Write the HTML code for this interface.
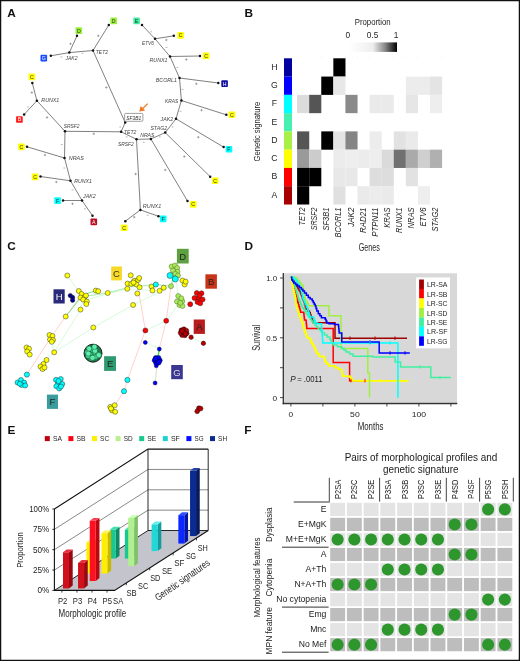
<!DOCTYPE html><html><head><meta charset="utf-8"><style>html,body{margin:0;padding:0;background:#fff;}svg{display:block;will-change:transform;}text{font-family:"Liberation Sans",sans-serif;}</style></head><body>
<svg width="520" height="661" viewBox="0 0 520 661">
<rect x="0" y="0" width="520" height="661" fill="#fff"/>
<text x="7.2" y="16.8" font-size="11.8" fill="#111" text-anchor="start" font-weight="bold">A</text>
<text x="244.6" y="17.1" font-size="11.8" fill="#111" text-anchor="start" font-weight="bold">B</text>
<text x="7.2" y="250.4" font-size="11.8" fill="#111" text-anchor="start" font-weight="bold">C</text>
<text x="244.5" y="249.7" font-size="11.8" fill="#111" text-anchor="start" font-weight="bold">D</text>
<text x="7.4" y="434.2" font-size="11.8" fill="#111" text-anchor="start" font-weight="bold">E</text>
<text x="244.2" y="434.2" font-size="11.8" fill="#111" text-anchor="start" font-weight="bold">F</text>
<line x1="93" y1="50.5" x2="108.8" y2="25" stroke="#555" stroke-width="0.75"/>
<line x1="93" y1="50.5" x2="69.3" y2="52.6" stroke="#555" stroke-width="0.75"/>
<line x1="69.3" y1="52.6" x2="77" y2="35.8" stroke="#555" stroke-width="0.75"/>
<line x1="69.3" y1="52.6" x2="50.8" y2="55.8" stroke="#555" stroke-width="0.75"/>
<line x1="93" y1="50.5" x2="125.2" y2="122.6" stroke="#555" stroke-width="0.75"/>
<line x1="125.2" y1="122.6" x2="121.1" y2="131.8" stroke="#555" stroke-width="0.75"/>
<line x1="121.1" y1="131.8" x2="65" y2="131.3" stroke="#555" stroke-width="0.75"/>
<line x1="65" y1="131.3" x2="36.9" y2="100.7" stroke="#555" stroke-width="0.75"/>
<line x1="36.9" y1="100.7" x2="32.3" y2="83" stroke="#555" stroke-width="0.75"/>
<line x1="36.9" y1="100.7" x2="24.1" y2="114.5" stroke="#555" stroke-width="0.75"/>
<line x1="65" y1="131.3" x2="64.5" y2="158" stroke="#555" stroke-width="0.75"/>
<line x1="64.5" y1="158" x2="27" y2="146.8" stroke="#555" stroke-width="0.75"/>
<line x1="64.5" y1="158" x2="70.5" y2="180.8" stroke="#555" stroke-width="0.75"/>
<line x1="70.5" y1="180.8" x2="40.5" y2="176.5" stroke="#555" stroke-width="0.75"/>
<line x1="70.5" y1="180.8" x2="82" y2="200.5" stroke="#555" stroke-width="0.75"/>
<line x1="82" y1="200.5" x2="63" y2="200.5" stroke="#555" stroke-width="0.75"/>
<line x1="82" y1="200.5" x2="92.5" y2="215.8" stroke="#555" stroke-width="0.75"/>
<line x1="121.1" y1="131.8" x2="136.5" y2="139.3" stroke="#555" stroke-width="0.75"/>
<line x1="136.5" y1="139.3" x2="150.9" y2="139" stroke="#555" stroke-width="0.75"/>
<line x1="150.9" y1="139" x2="165.2" y2="132.6" stroke="#555" stroke-width="0.75"/>
<line x1="165.2" y1="132.6" x2="176" y2="118.8" stroke="#555" stroke-width="0.75"/>
<line x1="176" y1="118.8" x2="181.4" y2="100.5" stroke="#555" stroke-width="0.75"/>
<line x1="181.4" y1="100.5" x2="179.5" y2="78" stroke="#555" stroke-width="0.75"/>
<line x1="179.5" y1="78" x2="170" y2="56.5" stroke="#555" stroke-width="0.75"/>
<line x1="170" y1="56.5" x2="155" y2="38.8" stroke="#555" stroke-width="0.75"/>
<line x1="155" y1="38.8" x2="142" y2="25" stroke="#555" stroke-width="0.75"/>
<line x1="155" y1="38.8" x2="173.8" y2="35.8" stroke="#555" stroke-width="0.75"/>
<line x1="170" y1="56.5" x2="200" y2="56" stroke="#555" stroke-width="0.75"/>
<line x1="179.5" y1="78" x2="218.3" y2="83" stroke="#555" stroke-width="0.75"/>
<line x1="181.4" y1="100.5" x2="226.3" y2="114.8" stroke="#555" stroke-width="0.75"/>
<line x1="176" y1="118.8" x2="223.6" y2="147.1" stroke="#555" stroke-width="0.75"/>
<line x1="165.2" y1="132.6" x2="210.2" y2="176.7" stroke="#555" stroke-width="0.75"/>
<line x1="150.9" y1="139" x2="187.5" y2="201" stroke="#555" stroke-width="0.75"/>
<line x1="136.5" y1="139.3" x2="140.4" y2="209.9" stroke="#555" stroke-width="0.75"/>
<line x1="140.4" y1="209.9" x2="125.3" y2="221.2" stroke="#555" stroke-width="0.75"/>
<line x1="140.4" y1="209.9" x2="158.5" y2="216.3" stroke="#555" stroke-width="0.75"/>
<circle cx="93" cy="50.5" r="1.25" fill="#111"/>
<circle cx="69.3" cy="52.6" r="1.25" fill="#111"/>
<circle cx="108.8" cy="25" r="1.25" fill="#111"/>
<circle cx="77" cy="35.8" r="1.25" fill="#111"/>
<circle cx="50.8" cy="55.8" r="1.25" fill="#111"/>
<circle cx="125.2" cy="122.6" r="1.25" fill="#111"/>
<circle cx="121.1" cy="131.8" r="1.25" fill="#111"/>
<circle cx="65" cy="131.3" r="1.25" fill="#111"/>
<circle cx="36.9" cy="100.7" r="1.25" fill="#111"/>
<circle cx="32.3" cy="83" r="1.25" fill="#111"/>
<circle cx="24.1" cy="114.5" r="1.25" fill="#111"/>
<circle cx="64.5" cy="158" r="1.25" fill="#111"/>
<circle cx="27" cy="146.8" r="1.25" fill="#111"/>
<circle cx="70.5" cy="180.8" r="1.25" fill="#111"/>
<circle cx="40.5" cy="176.5" r="1.25" fill="#111"/>
<circle cx="82" cy="200.5" r="1.25" fill="#111"/>
<circle cx="63" cy="200.5" r="1.25" fill="#111"/>
<circle cx="92.5" cy="215.8" r="1.25" fill="#111"/>
<circle cx="136.5" cy="139.3" r="1.25" fill="#111"/>
<circle cx="150.9" cy="139" r="1.25" fill="#111"/>
<circle cx="165.2" cy="132.6" r="1.25" fill="#111"/>
<circle cx="176" cy="118.8" r="1.25" fill="#111"/>
<circle cx="181.4" cy="100.5" r="1.25" fill="#111"/>
<circle cx="179.5" cy="78" r="1.25" fill="#111"/>
<circle cx="170" cy="56.5" r="1.25" fill="#111"/>
<circle cx="155" cy="38.8" r="1.25" fill="#111"/>
<circle cx="142" cy="25" r="1.25" fill="#111"/>
<circle cx="173.8" cy="35.8" r="1.25" fill="#111"/>
<circle cx="200" cy="56" r="1.25" fill="#111"/>
<circle cx="218.3" cy="83" r="1.25" fill="#111"/>
<circle cx="226.3" cy="114.8" r="1.25" fill="#111"/>
<circle cx="223.6" cy="147.1" r="1.25" fill="#111"/>
<circle cx="210.2" cy="176.7" r="1.25" fill="#111"/>
<circle cx="187.5" cy="201" r="1.25" fill="#111"/>
<circle cx="140.4" cy="209.9" r="1.25" fill="#111"/>
<circle cx="125.3" cy="221.2" r="1.25" fill="#111"/>
<circle cx="158.5" cy="216.3" r="1.25" fill="#111"/>
<rect x="110.4" y="17.599999999999998" width="6.6" height="6.6" rx="0.9" fill="#98f038"/>
<text x="113.7" y="22.799999999999997" font-size="5.2" fill="#333" text-anchor="middle">D</text>
<rect x="75.5" y="27.3" width="6.6" height="6.6" rx="0.9" fill="#98f038"/>
<text x="78.8" y="32.5" font-size="5.2" fill="#333" text-anchor="middle">D</text>
<rect x="40.5" y="54.800000000000004" width="6.6" height="6.6" rx="0.9" fill="#1a4cff"/>
<text x="43.8" y="60.0" font-size="5.2" fill="#fff" text-anchor="middle">G</text>
<rect x="28.599999999999998" y="73.60000000000001" width="6.6" height="6.6" rx="0.9" fill="#ffff00"/>
<text x="31.9" y="78.80000000000001" font-size="5.2" fill="#333" text-anchor="middle">C</text>
<rect x="16.099999999999998" y="116.2" width="6.6" height="6.6" rx="0.9" fill="#ff1a1a"/>
<text x="19.4" y="121.4" font-size="5.2" fill="#fff" text-anchor="middle">B</text>
<rect x="18.099999999999998" y="143.6" width="6.6" height="6.6" rx="0.9" fill="#ffff00"/>
<text x="21.4" y="148.8" font-size="5.2" fill="#333" text-anchor="middle">C</text>
<rect x="31.8" y="173.6" width="6.6" height="6.6" rx="0.9" fill="#ffff00"/>
<text x="35.1" y="178.8" font-size="5.2" fill="#333" text-anchor="middle">C</text>
<rect x="54.300000000000004" y="197.29999999999998" width="6.6" height="6.6" rx="0.9" fill="#00ffff"/>
<text x="57.6" y="202.5" font-size="5.2" fill="#333" text-anchor="middle">F</text>
<rect x="90.5" y="218.6" width="6.6" height="6.6" rx="0.9" fill="#b81020"/>
<text x="93.8" y="223.8" font-size="5.2" fill="#fff" text-anchor="middle">A</text>
<rect x="133.29999999999998" y="17.599999999999998" width="6.6" height="6.6" rx="0.9" fill="#40f0a0"/>
<text x="136.6" y="22.799999999999997" font-size="5.2" fill="#333" text-anchor="middle">E</text>
<rect x="177.29999999999998" y="32.1" width="6.6" height="6.6" rx="0.9" fill="#ffff00"/>
<text x="180.6" y="37.3" font-size="5.2" fill="#333" text-anchor="middle">C</text>
<rect x="202.79999999999998" y="52.6" width="6.6" height="6.6" rx="0.9" fill="#ffff00"/>
<text x="206.1" y="57.8" font-size="5.2" fill="#333" text-anchor="middle">C</text>
<rect x="221.29999999999998" y="80.3" width="6.6" height="6.6" rx="0.9" fill="#1010a0"/>
<text x="224.6" y="85.5" font-size="5.2" fill="#fff" text-anchor="middle">H</text>
<rect x="228.6" y="111.4" width="6.6" height="6.6" rx="0.9" fill="#ffff00"/>
<text x="231.9" y="116.60000000000001" font-size="5.2" fill="#333" text-anchor="middle">C</text>
<rect x="225.6" y="145.89999999999998" width="6.6" height="6.6" rx="0.9" fill="#00ffff"/>
<text x="228.9" y="151.1" font-size="5.2" fill="#333" text-anchor="middle">F</text>
<rect x="211.89999999999998" y="177.39999999999998" width="6.6" height="6.6" rx="0.9" fill="#ffff00"/>
<text x="215.2" y="182.6" font-size="5.2" fill="#333" text-anchor="middle">C</text>
<rect x="189.89999999999998" y="201.1" width="6.6" height="6.6" rx="0.9" fill="#ffff00"/>
<text x="193.2" y="206.3" font-size="5.2" fill="#333" text-anchor="middle">C</text>
<rect x="120.9" y="224.5" width="6.6" height="6.6" rx="0.9" fill="#ffff00"/>
<text x="124.2" y="229.70000000000002" font-size="5.2" fill="#333" text-anchor="middle">C</text>
<rect x="159.89999999999998" y="215.6" width="6.6" height="6.6" rx="0.9" fill="#00ffff"/>
<text x="163.2" y="220.8" font-size="5.2" fill="#333" text-anchor="middle">F</text>
<text x="95.8" y="53.9" font-size="6.0" fill="#444" text-anchor="start" font-style="italic" textLength="12.2" lengthAdjust="spacingAndGlyphs">TET2</text>
<text x="65.5" y="60.1" font-size="6.0" fill="#444" text-anchor="start" font-style="italic" textLength="12" lengthAdjust="spacingAndGlyphs">JAK2</text>
<text x="41.3" y="102.1" font-size="6.0" fill="#444" text-anchor="start" font-style="italic" textLength="18" lengthAdjust="spacingAndGlyphs">RUNX1</text>
<text x="142" y="45.1" font-size="6.0" fill="#444" text-anchor="start" font-style="italic" textLength="11.8" lengthAdjust="spacingAndGlyphs">ETV6</text>
<text x="149.5" y="61.6" font-size="6.0" fill="#444" text-anchor="start" font-style="italic" textLength="18" lengthAdjust="spacingAndGlyphs">RUNX1</text>
<text x="155.8" y="82.1" font-size="6.0" fill="#444" text-anchor="start" font-style="italic" textLength="21.2" lengthAdjust="spacingAndGlyphs">BCORL1</text>
<text x="165" y="102.9" font-size="6.0" fill="#444" text-anchor="start" font-style="italic" textLength="13.2" lengthAdjust="spacingAndGlyphs">KRAS</text>
<text x="63.8" y="127.9" font-size="6.0" fill="#444" text-anchor="start" font-style="italic" textLength="15.7" lengthAdjust="spacingAndGlyphs">SRSF2</text>
<text x="68.8" y="160.1" font-size="6.0" fill="#444" text-anchor="start" font-style="italic" textLength="15" lengthAdjust="spacingAndGlyphs">NRAS</text>
<text x="74.3" y="182.9" font-size="6.0" fill="#444" text-anchor="start" font-style="italic" textLength="17.7" lengthAdjust="spacingAndGlyphs">RUNX1</text>
<text x="83" y="198.4" font-size="6.0" fill="#444" text-anchor="start" font-style="italic" textLength="12.7" lengthAdjust="spacingAndGlyphs">JAK2</text>
<text x="124" y="134" font-size="6.0" fill="#444" text-anchor="start" font-style="italic" textLength="12.4" lengthAdjust="spacingAndGlyphs">TET2</text>
<text x="118" y="146" font-size="6.0" fill="#444" text-anchor="start" font-style="italic" textLength="15.7" lengthAdjust="spacingAndGlyphs">SRSF2</text>
<text x="140.2" y="137.1" font-size="6.0" fill="#444" text-anchor="start" font-style="italic" textLength="14.2" lengthAdjust="spacingAndGlyphs">NRAS</text>
<text x="150.4" y="129.8" font-size="6.0" fill="#444" text-anchor="start" font-style="italic" textLength="16.7" lengthAdjust="spacingAndGlyphs">STAG2</text>
<text x="160.6" y="120.7" font-size="6.0" fill="#444" text-anchor="start" font-style="italic" textLength="12.7" lengthAdjust="spacingAndGlyphs">JAK2</text>
<text x="142.8" y="207.9" font-size="6.0" fill="#444" text-anchor="start" font-style="italic" textLength="18.4" lengthAdjust="spacingAndGlyphs">RUNX1</text>
<rect x="124.6" y="113.4" width="18.3" height="7.9" rx="1.2" fill="#fff" stroke="#777" stroke-width="0.7"/>
<text x="126.2" y="119.6" font-size="5.9" fill="#333" text-anchor="start" font-style="italic" textLength="15" lengthAdjust="spacingAndGlyphs">SF3B1</text>
<path d="M147.7 103.6 L140 111" stroke="#f07820" stroke-width="1.3" fill="none"/>
<path d="M139.4 111.6 L140.6 105.9 L145.2 110.4 Z" fill="#f07820"/>
<path d="M69.3 43.8h2.4M70.5 42.599999999999994v2.4" stroke="#777" stroke-width="0.6"/>
<path d="M97.1 35.8h2.4M98.3 34.599999999999994v2.4" stroke="#777" stroke-width="0.6"/>
<path d="M105.1 87.5h2.4M106.3 86.3v2.4" stroke="#777" stroke-width="0.6"/>
<path d="M30.6 92.5h2.4M31.8 91.3v2.4" stroke="#777" stroke-width="0.6"/>
<path d="M45.8 117.5h2.4M47 116.3v2.4" stroke="#777" stroke-width="0.6"/>
<path d="M92.6 133.8h2.4M93.8 132.60000000000002v2.4" stroke="#777" stroke-width="0.6"/>
<path d="M43.8 155h2.4M45 153.8v2.4" stroke="#777" stroke-width="0.6"/>
<path d="M55.099999999999994 182h2.4M56.3 180.8v2.4" stroke="#777" stroke-width="0.6"/>
<path d="M71.3 203.8h2.4M72.5 202.60000000000002v2.4" stroke="#777" stroke-width="0.6"/>
<path d="M165.10000000000002 40h2.4M166.3 38.8v2.4" stroke="#777" stroke-width="0.6"/>
<path d="M185.10000000000002 59.5h2.4M186.3 58.3v2.4" stroke="#777" stroke-width="0.6"/>
<path d="M195.10000000000002 83.8h2.4M196.3 82.6v2.4" stroke="#777" stroke-width="0.6"/>
<path d="M200.3 110.2h2.4M201.5 109.0v2.4" stroke="#777" stroke-width="0.6"/>
<path d="M197.10000000000002 137.2h2.4M198.3 136.0v2.4" stroke="#777" stroke-width="0.6"/>
<path d="M183.10000000000002 156.5h2.4M184.3 155.3v2.4" stroke="#777" stroke-width="0.6"/>
<path d="M164.0 170h2.4M165.2 168.8v2.4" stroke="#777" stroke-width="0.6"/>
<path d="M134.4 174h2.4M135.6 172.8v2.4" stroke="#777" stroke-width="0.6"/>
<path d="M133.0 217.1h2.4M134.2 215.9v2.4" stroke="#777" stroke-width="0.6"/>
<path d="M60.4 57h1.8" stroke="#888" stroke-width="0.6"/>
<path d="M81.6 53.3h1.8" stroke="#888" stroke-width="0.6"/>
<path d="M27.1 107h1.8" stroke="#888" stroke-width="0.6"/>
<path d="M60.9 144.5h1.8" stroke="#888" stroke-width="0.6"/>
<path d="M63.4 168h1.8" stroke="#888" stroke-width="0.6"/>
<path d="M71.6 190h1.8" stroke="#888" stroke-width="0.6"/>
<path d="M84.1 208.8h1.8" stroke="#888" stroke-width="0.6"/>
<path d="M150.4 31.8h1.8" stroke="#888" stroke-width="0.6"/>
<path d="M165.6 47.5h1.8" stroke="#888" stroke-width="0.6"/>
<path d="M176.6 67.5h1.8" stroke="#888" stroke-width="0.6"/>
<path d="M181.6 89.5h1.8" stroke="#888" stroke-width="0.6"/>
<path d="M179.6 111.3h1.8" stroke="#888" stroke-width="0.6"/>
<path d="M171.6 127h1.8" stroke="#888" stroke-width="0.6"/>
<path d="M158.9 136.9h1.8" stroke="#888" stroke-width="0.6"/>
<path d="M142.79999999999998 142.3h1.8" stroke="#888" stroke-width="0.6"/>
<path d="M125.8 136.9h1.8" stroke="#888" stroke-width="0.6"/>
<path d="M119.3 127h1.8" stroke="#888" stroke-width="0.6"/>
<path d="M146.79999999999998 215.2h1.8" stroke="#888" stroke-width="0.6"/>
<rect x="284" y="58.3" width="8" height="18.32" fill="#0000a0"/>
<text x="274.5" y="69.75" font-size="8.7" fill="#1e1e1e" text-anchor="middle">H</text>
<rect x="333.34000000000003" y="58.3" width="12.13" height="18.32" fill="#000"/>
<rect x="284" y="76.57" width="8" height="18.32" fill="#0000ff"/>
<text x="274.5" y="88.02" font-size="8.7" fill="#1e1e1e" text-anchor="middle">G</text>
<rect x="321.26000000000005" y="76.57" width="12.13" height="18.32" fill="#000"/>
<rect x="333.34000000000003" y="76.57" width="12.13" height="18.32" fill="#e8e8e8"/>
<rect x="405.82000000000005" y="76.57" width="12.13" height="18.32" fill="#ececec"/>
<rect x="417.90000000000003" y="76.57" width="12.13" height="18.32" fill="#ececec"/>
<rect x="429.98" y="76.57" width="12.13" height="18.32" fill="#e4e4e4"/>
<rect x="284" y="94.84" width="8" height="18.32" fill="#00ffff"/>
<text x="274.5" y="106.29" font-size="8.7" fill="#1e1e1e" text-anchor="middle">F</text>
<rect x="297.1" y="94.84" width="12.13" height="18.32" fill="#dcdcdc"/>
<rect x="309.18" y="94.84" width="12.13" height="18.32" fill="#555"/>
<rect x="345.42" y="94.84" width="12.13" height="18.32" fill="#8a8a8a"/>
<rect x="369.58000000000004" y="94.84" width="12.13" height="18.32" fill="#eaeaea"/>
<rect x="381.66" y="94.84" width="12.13" height="18.32" fill="#eaeaea"/>
<rect x="405.82000000000005" y="94.84" width="12.13" height="18.32" fill="#e6e6e6"/>
<rect x="429.98" y="94.84" width="12.13" height="18.32" fill="#eeeeee"/>
<rect x="284" y="113.11" width="8" height="18.32" fill="#48f0b0"/>
<text x="274.5" y="124.56" font-size="8.7" fill="#1e1e1e" text-anchor="middle">E</text>
<rect x="284" y="131.38" width="8" height="18.32" fill="#a8f048"/>
<text x="274.5" y="142.82999999999998" font-size="8.7" fill="#1e1e1e" text-anchor="middle">D</text>
<rect x="297.1" y="131.38" width="12.13" height="18.32" fill="#555"/>
<rect x="321.26000000000005" y="131.38" width="12.13" height="18.32" fill="#000"/>
<rect x="333.34000000000003" y="131.38" width="12.13" height="18.32" fill="#e4e4e4"/>
<rect x="345.42" y="131.38" width="12.13" height="18.32" fill="#858585"/>
<rect x="369.58000000000004" y="131.38" width="12.13" height="18.32" fill="#ececec"/>
<rect x="393.74" y="131.38" width="12.13" height="18.32" fill="#e2e2e2"/>
<rect x="405.82000000000005" y="131.38" width="12.13" height="18.32" fill="#eaeaea"/>
<rect x="284" y="149.64999999999998" width="8" height="18.32" fill="#ffff00"/>
<text x="274.5" y="161.09999999999997" font-size="8.7" fill="#1e1e1e" text-anchor="middle">C</text>
<rect x="297.1" y="149.64999999999998" width="12.13" height="18.32" fill="#9a9a9a"/>
<rect x="309.18" y="149.64999999999998" width="12.13" height="18.32" fill="#cccccc"/>
<rect x="333.34000000000003" y="149.64999999999998" width="12.13" height="18.32" fill="#ececec"/>
<rect x="345.42" y="149.64999999999998" width="12.13" height="18.32" fill="#eeeeee"/>
<rect x="357.5" y="149.64999999999998" width="12.13" height="18.32" fill="#ececec"/>
<rect x="369.58000000000004" y="149.64999999999998" width="12.13" height="18.32" fill="#eeeeee"/>
<rect x="381.66" y="149.64999999999998" width="12.13" height="18.32" fill="#dadada"/>
<rect x="393.74" y="149.64999999999998" width="12.13" height="18.32" fill="#707070"/>
<rect x="405.82000000000005" y="149.64999999999998" width="12.13" height="18.32" fill="#aaaaaa"/>
<rect x="417.90000000000003" y="149.64999999999998" width="12.13" height="18.32" fill="#cfcfcf"/>
<rect x="429.98" y="149.64999999999998" width="12.13" height="18.32" fill="#b0b0b0"/>
<rect x="284" y="167.92000000000002" width="8" height="18.32" fill="#ff0000"/>
<text x="274.5" y="179.37" font-size="8.7" fill="#1e1e1e" text-anchor="middle">B</text>
<rect x="297.1" y="167.92000000000002" width="12.13" height="18.32" fill="#000"/>
<rect x="309.18" y="167.92000000000002" width="12.13" height="18.32" fill="#000"/>
<rect x="333.34000000000003" y="167.92000000000002" width="12.13" height="18.32" fill="#e8e8e8"/>
<rect x="345.42" y="167.92000000000002" width="12.13" height="18.32" fill="#e8e8e8"/>
<rect x="369.58000000000004" y="167.92000000000002" width="12.13" height="18.32" fill="#dddddd"/>
<rect x="381.66" y="167.92000000000002" width="12.13" height="18.32" fill="#dddddd"/>
<rect x="405.82000000000005" y="167.92000000000002" width="12.13" height="18.32" fill="#e2e2e2"/>
<rect x="284" y="186.19" width="8" height="18.32" fill="#a80000"/>
<text x="274.5" y="197.64" font-size="8.7" fill="#1e1e1e" text-anchor="middle">A</text>
<rect x="297.1" y="186.19" width="12.13" height="18.32" fill="#000"/>
<rect x="333.34000000000003" y="186.19" width="12.13" height="18.32" fill="#e0e0e0"/>
<rect x="357.5" y="186.19" width="12.13" height="18.32" fill="#eaeaea"/>
<rect x="369.58000000000004" y="186.19" width="12.13" height="18.32" fill="#ececec"/>
<rect x="381.66" y="186.19" width="12.13" height="18.32" fill="#eaeaea"/>
<rect x="417.90000000000003" y="186.19" width="12.13" height="18.32" fill="#eeeeee"/>
<circle cx="297.1" cy="57.2" r="0.35" fill="#ccc"/>
<circle cx="309.18" cy="57.2" r="0.35" fill="#ccc"/>
<circle cx="321.26000000000005" cy="57.2" r="0.35" fill="#ccc"/>
<circle cx="333.34000000000003" cy="57.2" r="0.35" fill="#ccc"/>
<circle cx="345.42" cy="57.2" r="0.35" fill="#ccc"/>
<circle cx="357.5" cy="57.2" r="0.35" fill="#ccc"/>
<circle cx="369.58000000000004" cy="57.2" r="0.35" fill="#ccc"/>
<circle cx="381.66" cy="57.2" r="0.35" fill="#ccc"/>
<circle cx="393.74" cy="57.2" r="0.35" fill="#ccc"/>
<circle cx="405.82000000000005" cy="57.2" r="0.35" fill="#ccc"/>
<circle cx="417.90000000000003" cy="57.2" r="0.35" fill="#ccc"/>
<circle cx="429.98" cy="57.2" r="0.35" fill="#ccc"/>
<circle cx="442.06000000000006" cy="57.2" r="0.35" fill="#ccc"/>
<text x="305.24000000000007" y="207.5" font-size="8.4" fill="#1e1e1e" font-style="italic" text-anchor="end" textLength="18" lengthAdjust="spacingAndGlyphs" transform="rotate(-90 305.24000000000007 207.5)">TET2</text>
<text x="317.32000000000005" y="207.5" font-size="8.4" fill="#1e1e1e" font-style="italic" text-anchor="end" textLength="22.8" lengthAdjust="spacingAndGlyphs" transform="rotate(-90 317.32000000000005 207.5)">SRSF2</text>
<text x="329.4000000000001" y="207.5" font-size="8.4" fill="#1e1e1e" font-style="italic" text-anchor="end" textLength="23.1" lengthAdjust="spacingAndGlyphs" transform="rotate(-90 329.4000000000001 207.5)">SF3B1</text>
<text x="341.4800000000001" y="207.5" font-size="8.4" fill="#1e1e1e" font-style="italic" text-anchor="end" textLength="30" lengthAdjust="spacingAndGlyphs" transform="rotate(-90 341.4800000000001 207.5)">BCORL1</text>
<text x="353.56000000000006" y="207.5" font-size="8.4" fill="#1e1e1e" font-style="italic" text-anchor="end" textLength="19.3" lengthAdjust="spacingAndGlyphs" transform="rotate(-90 353.56000000000006 207.5)">JAK2</text>
<text x="365.64000000000004" y="207.5" font-size="8.4" fill="#1e1e1e" font-style="italic" text-anchor="end" textLength="25.4" lengthAdjust="spacingAndGlyphs" transform="rotate(-90 365.64000000000004 207.5)">RAD21</text>
<text x="377.7200000000001" y="207.5" font-size="8.4" fill="#1e1e1e" font-style="italic" text-anchor="end" textLength="29.2" lengthAdjust="spacingAndGlyphs" transform="rotate(-90 377.7200000000001 207.5)">PTPN11</text>
<text x="389.80000000000007" y="207.5" font-size="8.4" fill="#1e1e1e" font-style="italic" text-anchor="end" textLength="20.2" lengthAdjust="spacingAndGlyphs" transform="rotate(-90 389.80000000000007 207.5)">KRAS</text>
<text x="401.88000000000005" y="207.5" font-size="8.4" fill="#1e1e1e" font-style="italic" text-anchor="end" textLength="25.5" lengthAdjust="spacingAndGlyphs" transform="rotate(-90 401.88000000000005 207.5)">RUNX1</text>
<text x="413.9600000000001" y="207.5" font-size="8.4" fill="#1e1e1e" font-style="italic" text-anchor="end" textLength="21" lengthAdjust="spacingAndGlyphs" transform="rotate(-90 413.9600000000001 207.5)">NRAS</text>
<text x="426.0400000000001" y="207.5" font-size="8.4" fill="#1e1e1e" font-style="italic" text-anchor="end" textLength="19" lengthAdjust="spacingAndGlyphs" transform="rotate(-90 426.0400000000001 207.5)">ETV6</text>
<text x="438.12000000000006" y="207.5" font-size="8.4" fill="#1e1e1e" font-style="italic" text-anchor="end" textLength="24" lengthAdjust="spacingAndGlyphs" transform="rotate(-90 438.12000000000006 207.5)">STAG2</text>
<text x="259.9" y="131.65" font-size="9.9" fill="#1e1e1e" text-anchor="middle" textLength="59.7" lengthAdjust="spacingAndGlyphs" transform="rotate(-90 259.9 131.65)">Genetic signature</text>
<text x="369.3" y="250.6" font-size="10.5" fill="#1e1e1e" text-anchor="middle" textLength="21.2" lengthAdjust="spacingAndGlyphs">Genes</text>
<text x="372.7" y="24.75" font-size="9.45" fill="#1e1e1e" text-anchor="middle" textLength="35.9" lengthAdjust="spacingAndGlyphs">Proportion</text>
<text x="347.8" y="37.6" font-size="8.3" fill="#1e1e1e" text-anchor="middle">0</text>
<text x="372.5" y="37.6" font-size="8.3" fill="#1e1e1e" text-anchor="middle" textLength="11.5" lengthAdjust="spacingAndGlyphs">0.5</text>
<text x="396.0" y="37.6" font-size="8.3" fill="#1e1e1e" text-anchor="middle">1</text>
<defs><linearGradient id="pg" x1="0" x2="1" y1="0" y2="0"><stop offset="0" stop-color="#fff"/><stop offset="0.5" stop-color="#eeeeee"/><stop offset="0.75" stop-color="#888"/><stop offset="1" stop-color="#000"/></linearGradient></defs>
<rect x="349" y="42.4" width="48" height="9.5" fill="url(#pg)"/>
<path d="M26.9 374.6 L50.5 338" stroke="#ffb0b0" stroke-width="0.6" fill="none"/>
<path d="M50.5 338 L66 316 L80 297" stroke="#ffb0b0" stroke-width="0.6" fill="none"/>
<path d="M113 408 L124 391.2 L127.4 379.9 L138.3 350 L145.4 330.4 L139.2 294.4" stroke="#ffb0b0" stroke-width="0.6" fill="none"/>
<path d="M155.1 383 L159.4 348.7 L166.2 320.8 L171 286.2" stroke="#ffb0b0" stroke-width="0.6" fill="none"/>
<path d="M67.3 275.5 L80 293" stroke="#b8f8c0" stroke-width="0.6" fill="none"/>
<path d="M54.2 352.3 L93.3 327.5 L133.1 305 L171 286.2" stroke="#b8f8c0" stroke-width="0.6" fill="none"/>
<path d="M54.2 352.3 L80.5 309.6" stroke="#b8f8c0" stroke-width="0.6" fill="none"/>
<path d="M46.5 360 L54.2 352.3 L50.8 340" stroke="#b8f8c0" stroke-width="0.6" fill="none"/>
<path d="M80 297 L107.7 293 L130 287 L155.8 284.5 L171 286" stroke="#8ee896" stroke-width="0.8" fill="none"/>
<path d="M85 300 L127.3 288.8 L152 290.5" stroke="#b8f8c0" stroke-width="0.6" fill="none"/>
<path d="M145.4 330.4 L166.2 320.8 L180 302" stroke="#b8f8c0" stroke-width="0.6" fill="none"/>
<path d="M145.4 342.5 L159.4 348.7" stroke="#b8f8c0" stroke-width="0.6" fill="none"/>
<path d="M159.4 348.7 L156.5 366.4 L155.1 383" stroke="#b8f8c0" stroke-width="0.6" fill="none"/>
<path d="M190.9 337.2 L203.3 343.1" stroke="#b8f8c0" stroke-width="0.6" fill="none"/>
<path d="M178 296 L176 278" stroke="#b8f8c0" stroke-width="0.6" fill="none"/>
<path d="M190.2 304 L198 298" stroke="#b8f8c0" stroke-width="0.6" fill="none"/>
<path d="M80 296 L95.8 290.6" stroke="#60e870" stroke-width="0.9" fill="none"/>
<path d="M65.7 316.5 L80 298.5" stroke="#60e870" stroke-width="0.9" fill="none"/>
<path d="M80.5 309.6 L83 300" stroke="#b8f8c0" stroke-width="0.6" fill="none"/>
<path d="M46.5 360 L42.3 366.9" stroke="#60e870" stroke-width="0.9" fill="none"/>
<path d="M171.6 286.2 L173 276" stroke="#60e870" stroke-width="0.9" fill="none"/>
<path d="M159.4 350 L157.8 356" stroke="#30e030" stroke-width="1.1" fill="none"/>
<circle cx="67.3" cy="275.5" r="2.5" fill="#ffff00" stroke="#222" stroke-width="0.45"/>
<circle cx="95.8" cy="290.6" r="2.5" fill="#ffff00" stroke="#222" stroke-width="0.45"/>
<circle cx="98.2" cy="291.2" r="2.5" fill="#ffff00" stroke="#222" stroke-width="0.45"/>
<circle cx="107.7" cy="293" r="2.5" fill="#ffff00" stroke="#222" stroke-width="0.45"/>
<circle cx="80.5" cy="309.6" r="2.5" fill="#ffff00" stroke="#222" stroke-width="0.45"/>
<circle cx="65.7" cy="316.5" r="2.5" fill="#ffff00" stroke="#222" stroke-width="0.45"/>
<circle cx="54.2" cy="352.3" r="2.5" fill="#ffff00" stroke="#222" stroke-width="0.45"/>
<circle cx="46.5" cy="360" r="2.5" fill="#ffff00" stroke="#222" stroke-width="0.45"/>
<circle cx="130.7" cy="275.3" r="2.5" fill="#ffff00" stroke="#222" stroke-width="0.45"/>
<circle cx="137.3" cy="293.5" r="2.5" fill="#ffff00" stroke="#222" stroke-width="0.45"/>
<circle cx="133.1" cy="305" r="2.5" fill="#ffff00" stroke="#222" stroke-width="0.45"/>
<circle cx="93.3" cy="327.5" r="2.5" fill="#ffff00" stroke="#222" stroke-width="0.45"/>
<circle cx="151.5" cy="286.5" r="2.5" fill="#ffff00" stroke="#222" stroke-width="0.45"/>
<circle cx="152.5" cy="290.5" r="2.5" fill="#ffff00" stroke="#222" stroke-width="0.45"/>
<circle cx="159.6" cy="290.8" r="2.5" fill="#ffff00" stroke="#222" stroke-width="0.45"/>
<circle cx="163.7" cy="287.7" r="2.5" fill="#ffff00" stroke="#222" stroke-width="0.45"/>
<circle cx="182.5" cy="280.5" r="2.5" fill="#ffff00" stroke="#222" stroke-width="0.45"/>
<circle cx="184.6" cy="284.5" r="2.5" fill="#ffff00" stroke="#222" stroke-width="0.45"/>
<circle cx="185.6" cy="281.6" r="2.5" fill="#ffff00" stroke="#222" stroke-width="0.45"/>
<circle cx="78.8" cy="291" r="2.5" fill="#ffff00" stroke="#222" stroke-width="0.45"/>
<circle cx="81.6" cy="294" r="2.5" fill="#ffff00" stroke="#222" stroke-width="0.45"/>
<circle cx="84.5" cy="297" r="2.5" fill="#ffff00" stroke="#222" stroke-width="0.45"/>
<circle cx="80.5" cy="297.6" r="2.5" fill="#ffff00" stroke="#222" stroke-width="0.45"/>
<circle cx="86" cy="295.5" r="2.5" fill="#ffff00" stroke="#222" stroke-width="0.45"/>
<circle cx="83.2" cy="299.6" r="2.5" fill="#ffff00" stroke="#222" stroke-width="0.45"/>
<circle cx="86.8" cy="301.5" r="2.5" fill="#ffff00" stroke="#222" stroke-width="0.45"/>
<circle cx="86.3" cy="304" r="2.5" fill="#ffff00" stroke="#222" stroke-width="0.45"/>
<circle cx="127.6" cy="283.6" r="2.5" fill="#ffff00" stroke="#222" stroke-width="0.45"/>
<circle cx="131.3" cy="283.9" r="2.5" fill="#ffff00" stroke="#222" stroke-width="0.45"/>
<circle cx="134.2" cy="280.8" r="2.5" fill="#ffff00" stroke="#222" stroke-width="0.45"/>
<circle cx="138" cy="280" r="2.5" fill="#ffff00" stroke="#222" stroke-width="0.45"/>
<circle cx="139.2" cy="278" r="2.5" fill="#ffff00" stroke="#222" stroke-width="0.45"/>
<circle cx="136.5" cy="284.5" r="2.5" fill="#ffff00" stroke="#222" stroke-width="0.45"/>
<circle cx="139.6" cy="287.3" r="2.5" fill="#ffff00" stroke="#222" stroke-width="0.45"/>
<circle cx="127.3" cy="288.8" r="2.5" fill="#ffff00" stroke="#222" stroke-width="0.45"/>
<circle cx="133.5" cy="282.5" r="2.5" fill="#ffff00" stroke="#222" stroke-width="0.45"/>
<circle cx="49.5" cy="335" r="2.5" fill="#ffff00" stroke="#222" stroke-width="0.45"/>
<circle cx="52.5" cy="336" r="2.5" fill="#ffff00" stroke="#222" stroke-width="0.45"/>
<circle cx="50" cy="339.5" r="2.5" fill="#ffff00" stroke="#222" stroke-width="0.45"/>
<circle cx="53" cy="340" r="2.5" fill="#ffff00" stroke="#222" stroke-width="0.45"/>
<circle cx="51.8" cy="341.8" r="2.5" fill="#ffff00" stroke="#222" stroke-width="0.45"/>
<circle cx="26.5" cy="347.5" r="2.5" fill="#ffff00" stroke="#222" stroke-width="0.45"/>
<circle cx="29" cy="348.7" r="2.5" fill="#ffff00" stroke="#222" stroke-width="0.45"/>
<circle cx="27.2" cy="351.5" r="2.5" fill="#ffff00" stroke="#222" stroke-width="0.45"/>
<circle cx="29.7" cy="354.6" r="2.5" fill="#ffff00" stroke="#222" stroke-width="0.45"/>
<circle cx="43.5" cy="364" r="2.5" fill="#ffff00" stroke="#222" stroke-width="0.45"/>
<circle cx="40.5" cy="366.5" r="2.5" fill="#ffff00" stroke="#222" stroke-width="0.45"/>
<circle cx="42.5" cy="369" r="2.5" fill="#ffff00" stroke="#222" stroke-width="0.45"/>
<circle cx="44.5" cy="367.5" r="2.5" fill="#ffff00" stroke="#222" stroke-width="0.45"/>
<circle cx="110.2" cy="406.9" r="2.5" fill="#ffff00" stroke="#222" stroke-width="0.45"/>
<circle cx="114.7" cy="405.3" r="2.5" fill="#ffff00" stroke="#222" stroke-width="0.45"/>
<circle cx="112" cy="410.4" r="2.5" fill="#ffff00" stroke="#222" stroke-width="0.45"/>
<circle cx="115.2" cy="411.8" r="2.5" fill="#ffff00" stroke="#222" stroke-width="0.45"/>
<circle cx="111" cy="408.5" r="2.5" fill="#ffff00" stroke="#222" stroke-width="0.45"/>
<circle cx="171.6" cy="266.5" r="2.5" fill="#a8e85a" stroke="#4a6a20" stroke-width="0.45"/>
<circle cx="175" cy="265.5" r="2.5" fill="#a8e85a" stroke="#4a6a20" stroke-width="0.45"/>
<circle cx="177.2" cy="268" r="2.5" fill="#a8e85a" stroke="#4a6a20" stroke-width="0.45"/>
<circle cx="173" cy="270.5" r="2.5" fill="#a8e85a" stroke="#4a6a20" stroke-width="0.45"/>
<circle cx="177.5" cy="271.8" r="2.5" fill="#a8e85a" stroke="#4a6a20" stroke-width="0.45"/>
<circle cx="175.2" cy="273.8" r="2.5" fill="#a8e85a" stroke="#4a6a20" stroke-width="0.45"/>
<circle cx="178" cy="275.5" r="2.5" fill="#a8e85a" stroke="#4a6a20" stroke-width="0.45"/>
<circle cx="171" cy="286.2" r="2.5" fill="#a8e85a" stroke="#4a6a20" stroke-width="0.45"/>
<circle cx="178.2" cy="296" r="2.5" fill="#a8e85a" stroke="#4a6a20" stroke-width="0.45"/>
<circle cx="177" cy="301.5" r="2.5" fill="#a8e85a" stroke="#4a6a20" stroke-width="0.45"/>
<circle cx="182.3" cy="301.3" r="2.5" fill="#a8e85a" stroke="#4a6a20" stroke-width="0.45"/>
<circle cx="179.5" cy="305" r="2.5" fill="#a8e85a" stroke="#4a6a20" stroke-width="0.45"/>
<circle cx="182.4" cy="306" r="2.5" fill="#a8e85a" stroke="#4a6a20" stroke-width="0.45"/>
<circle cx="180.3" cy="302.8" r="2.5" fill="#a8e85a" stroke="#4a6a20" stroke-width="0.45"/>
<circle cx="181.3" cy="298.3" r="2.5" fill="#a8e85a" stroke="#4a6a20" stroke-width="0.45"/>
<circle cx="155.8" cy="284.5" r="2.6" fill="#00ffff" stroke="#222" stroke-width="0.45"/>
<circle cx="26.9" cy="374.6" r="2.6" fill="#00ffff" stroke="#222" stroke-width="0.45"/>
<circle cx="127.4" cy="379.9" r="2.6" fill="#00ffff" stroke="#222" stroke-width="0.45"/>
<circle cx="124" cy="391.2" r="2.6" fill="#00ffff" stroke="#222" stroke-width="0.45"/>
<circle cx="170" cy="275.5" r="3.0" fill="#00ffff" stroke="#222" stroke-width="0.45"/>
<circle cx="175.3" cy="279" r="3.0" fill="#00ffff" stroke="#222" stroke-width="0.45"/>
<circle cx="17.5" cy="382.5" r="2.5" fill="#00ffff" stroke="#222" stroke-width="0.45"/>
<circle cx="21" cy="380" r="2.5" fill="#00ffff" stroke="#222" stroke-width="0.45"/>
<circle cx="24.2" cy="382.6" r="2.5" fill="#00ffff" stroke="#222" stroke-width="0.45"/>
<circle cx="21.5" cy="385" r="2.5" fill="#00ffff" stroke="#222" stroke-width="0.45"/>
<circle cx="25.2" cy="385.5" r="2.5" fill="#00ffff" stroke="#222" stroke-width="0.45"/>
<circle cx="19.8" cy="383.8" r="2.5" fill="#00ffff" stroke="#222" stroke-width="0.45"/>
<circle cx="56" cy="379.8" r="2.5" fill="#00ffff" stroke="#222" stroke-width="0.45"/>
<circle cx="60.8" cy="379" r="2.5" fill="#00ffff" stroke="#222" stroke-width="0.45"/>
<circle cx="58" cy="383" r="2.5" fill="#00ffff" stroke="#222" stroke-width="0.45"/>
<circle cx="62.3" cy="384" r="2.5" fill="#00ffff" stroke="#222" stroke-width="0.45"/>
<circle cx="56.3" cy="386.2" r="2.5" fill="#00ffff" stroke="#222" stroke-width="0.45"/>
<circle cx="59.2" cy="388.5" r="2.5" fill="#00ffff" stroke="#222" stroke-width="0.45"/>
<circle cx="61" cy="386.5" r="2.5" fill="#00ffff" stroke="#222" stroke-width="0.45"/>
<circle cx="58.5" cy="381" r="2.5" fill="#00ffff" stroke="#222" stroke-width="0.45"/>
<circle cx="196.8" cy="293" r="2.5" fill="#ff0000" stroke="#222" stroke-width="0.45"/>
<circle cx="201.5" cy="293.3" r="2.5" fill="#ff0000" stroke="#222" stroke-width="0.45"/>
<circle cx="194.5" cy="298" r="2.5" fill="#ff0000" stroke="#222" stroke-width="0.45"/>
<circle cx="198.5" cy="298" r="2.5" fill="#ff0000" stroke="#222" stroke-width="0.45"/>
<circle cx="202.6" cy="299.4" r="2.5" fill="#ff0000" stroke="#222" stroke-width="0.45"/>
<circle cx="197.5" cy="302" r="2.5" fill="#ff0000" stroke="#222" stroke-width="0.45"/>
<circle cx="200.2" cy="303.3" r="2.5" fill="#ff0000" stroke="#222" stroke-width="0.45"/>
<circle cx="199.5" cy="295.6" r="2.5" fill="#ff0000" stroke="#222" stroke-width="0.45"/>
<circle cx="190.2" cy="304.2" r="2.5" fill="#ff0000" stroke="#222" stroke-width="0.45"/>
<circle cx="166.2" cy="320.8" r="2.5" fill="#ff0000" stroke="#222" stroke-width="0.45"/>
<circle cx="145.4" cy="330.4" r="2.5" fill="#ff0000" stroke="#222" stroke-width="0.45"/>
<circle cx="186.75707676520193" cy="333.3456646613163" r="2.35" fill="#b40000" stroke="#1a0000" stroke-width="0.45"/>
<circle cx="184.86669952814637" cy="335.3797335805442" r="2.35" fill="#b40000" stroke="#1a0000" stroke-width="0.45"/>
<circle cx="182.09776992084915" cy="335.16999255837703" r="2.35" fill="#b40000" stroke="#1a0000" stroke-width="0.45"/>
<circle cx="180.5353575013551" cy="332.8743815508329" r="2.35" fill="#b40000" stroke="#1a0000" stroke-width="0.45"/>
<circle cx="181.35599581692847" cy="330.2215500029279" r="2.35" fill="#b40000" stroke="#1a0000" stroke-width="0.45"/>
<circle cx="183.94172478456176" cy="329.2091428849714" r="2.35" fill="#b40000" stroke="#1a0000" stroke-width="0.45"/>
<circle cx="186.34542926577024" cy="330.59952672893866" r="2.35" fill="#b40000" stroke="#1a0000" stroke-width="0.45"/>
<circle cx="183.7" cy="332.4" r="2.35" fill="#b40000" stroke="#1a0000" stroke-width="0.45"/>
<circle cx="182" cy="331" r="2.35" fill="#b40000" stroke="#1a0000" stroke-width="0.45"/>
<circle cx="185.5" cy="333.8" r="2.35" fill="#b40000" stroke="#1a0000" stroke-width="0.45"/>
<circle cx="191.1" cy="337.2" r="2.2" fill="#b40000" stroke="#1a0000" stroke-width="0.45"/>
<circle cx="203.4" cy="343.3" r="2.2" fill="#b40000" stroke="#1a0000" stroke-width="0.45"/>
<circle cx="198.9" cy="408.2" r="2.4" fill="#b40000" stroke="#1a0000" stroke-width="0.45"/>
<circle cx="200.6" cy="408.6" r="2.4" fill="#b40000" stroke="#1a0000" stroke-width="0.45"/>
<circle cx="197.2" cy="411.3" r="2.4" fill="#b40000" stroke="#1a0000" stroke-width="0.45"/>
<circle cx="145.3" cy="342.4" r="2.0" fill="#0000ff" stroke="#000028" stroke-width="0.45"/>
<circle cx="159.3" cy="349.1" r="2.0" fill="#0000ff" stroke="#000028" stroke-width="0.45"/>
<circle cx="156.3" cy="365.8" r="2.0" fill="#0000ff" stroke="#000028" stroke-width="0.45"/>
<circle cx="155.1" cy="383" r="2.0" fill="#0000ff" stroke="#000028" stroke-width="0.45"/>
<circle cx="159.89999999999998" cy="360.3" r="2.35" fill="#0000ff" stroke="#000028" stroke-width="0.45"/>
<circle cx="158.54999427403587" cy="362.8114772217323" r="2.35" fill="#0000ff" stroke="#000028" stroke-width="0.45"/>
<circle cx="155.84998854809604" cy="362.8114665694149" r="2.35" fill="#0000ff" stroke="#000028" stroke-width="0.45"/>
<circle cx="154.50000000007284" cy="360.2999786954104" r="2.35" fill="#0000ff" stroke="#000028" stroke-width="0.45"/>
<circle cx="155.85002290390506" cy="357.7885121260859" r="2.35" fill="#0000ff" stroke="#000028" stroke-width="0.45"/>
<circle cx="158.5500286296992" cy="357.78854408303806" r="2.35" fill="#0000ff" stroke="#000028" stroke-width="0.45"/>
<circle cx="157.2" cy="360.3" r="2.35" fill="#0000ff" stroke="#000028" stroke-width="0.45"/>
<circle cx="155.5" cy="358.6" r="2.35" fill="#0000ff" stroke="#000028" stroke-width="0.45"/>
<circle cx="159" cy="362" r="2.35" fill="#0000ff" stroke="#000028" stroke-width="0.45"/>
<circle cx="70.3" cy="295.6" r="2.2" fill="#000090" stroke="#222" stroke-width="0.45"/>
<circle cx="72.6" cy="297.4" r="2.2" fill="#000090" stroke="#222" stroke-width="0.45"/>
<circle cx="72.6" cy="300.2" r="2.2" fill="#000090" stroke="#222" stroke-width="0.45"/>
<circle cx="93" cy="353.2" r="9.0" fill="#1f7a50" stroke="#111" stroke-width="0.9"/>
<circle cx="91.89" cy="355.42" r="2.5" fill="#48e098" stroke="#0a3a22" stroke-width="0.45"/>
<circle cx="92.0" cy="351.8" r="2.5" fill="#48e098" stroke="#0a3a22" stroke-width="0.45"/>
<circle cx="89.23" cy="352.34" r="2.5" fill="#48e098" stroke="#0a3a22" stroke-width="0.45"/>
<circle cx="97.26" cy="354.82" r="2.5" fill="#48e098" stroke="#0a3a22" stroke-width="0.45"/>
<circle cx="97.1" cy="354.18" r="2.5" fill="#48e098" stroke="#0a3a22" stroke-width="0.45"/>
<circle cx="94.74" cy="354.02" r="2.5" fill="#48e098" stroke="#0a3a22" stroke-width="0.45"/>
<circle cx="87.82" cy="355.86" r="2.5" fill="#48e098" stroke="#0a3a22" stroke-width="0.45"/>
<circle cx="95.15" cy="355.32" r="2.5" fill="#48e098" stroke="#0a3a22" stroke-width="0.45"/>
<circle cx="88.66" cy="348.73" r="2.5" fill="#48e098" stroke="#0a3a22" stroke-width="0.45"/>
<circle cx="89.43" cy="351.32" r="2.5" fill="#48e098" stroke="#0a3a22" stroke-width="0.45"/>
<circle cx="94.37" cy="352.99" r="2.5" fill="#48e098" stroke="#0a3a22" stroke-width="0.45"/>
<circle cx="95.17" cy="350.52" r="2.5" fill="#48e098" stroke="#0a3a22" stroke-width="0.45"/>
<circle cx="94.35" cy="354.93" r="2.5" fill="#48e098" stroke="#0a3a22" stroke-width="0.45"/>
<circle cx="90.92" cy="358.6" r="2.5" fill="#48e098" stroke="#0a3a22" stroke-width="0.45"/>
<circle cx="95.06" cy="357.63" r="2.5" fill="#48e098" stroke="#0a3a22" stroke-width="0.45"/>
<circle cx="90.49" cy="350.21" r="2.5" fill="#48e098" stroke="#0a3a22" stroke-width="0.45"/>
<circle cx="91.47" cy="352.73" r="2.5" fill="#48e098" stroke="#0a3a22" stroke-width="0.45"/>
<circle cx="95.7" cy="354.26" r="2.5" fill="#48e098" stroke="#0a3a22" stroke-width="0.45"/>
<circle cx="91.23" cy="349.41" r="2.5" fill="#48e098" stroke="#0a3a22" stroke-width="0.45"/>
<circle cx="91.08" cy="357.71" r="2.5" fill="#48e098" stroke="#0a3a22" stroke-width="0.45"/>
<circle cx="89.65" cy="354.22" r="2.5" fill="#48e098" stroke="#0a3a22" stroke-width="0.45"/>
<circle cx="94.47" cy="348.06" r="2.5" fill="#48e098" stroke="#0a3a22" stroke-width="0.45"/>
<circle cx="93.18" cy="358.05" r="2.5" fill="#48e098" stroke="#0a3a22" stroke-width="0.45"/>
<circle cx="87.09" cy="352.26" r="2.5" fill="#48e098" stroke="#0a3a22" stroke-width="0.45"/>
<circle cx="92.56" cy="349.79" r="2.5" fill="#48e098" stroke="#0a3a22" stroke-width="0.45"/>
<circle cx="95.18" cy="352.93" r="2.5" fill="#48e098" stroke="#0a3a22" stroke-width="0.45"/>
<circle cx="88.15" cy="355.94" r="2.5" fill="#48e098" stroke="#0a3a22" stroke-width="0.45"/>
<circle cx="95.59" cy="356.85" r="2.5" fill="#48e098" stroke="#0a3a22" stroke-width="0.45"/>
<circle cx="98.07" cy="354.48" r="2.5" fill="#48e098" stroke="#0a3a22" stroke-width="0.45"/>
<circle cx="93.44" cy="348.38" r="2.5" fill="#48e098" stroke="#0a3a22" stroke-width="0.45"/>
<circle cx="88.3" cy="353.5" r="2.6" fill="#5cf0ac" stroke="#0a3a22" stroke-width="0.4"/>
<circle cx="95" cy="350.8" r="2.6" fill="#5cf0ac" stroke="#0a3a22" stroke-width="0.4"/>
<circle cx="98.8" cy="355.2" r="2.6" fill="#5cf0ac" stroke="#0a3a22" stroke-width="0.4"/>
<circle cx="92.5" cy="357.8" r="2.6" fill="#5cf0ac" stroke="#0a3a22" stroke-width="0.4"/>
<circle cx="89.2" cy="348.6" r="2.6" fill="#5cf0ac" stroke="#0a3a22" stroke-width="0.4"/>
<circle cx="94.5" cy="346.8" r="2.6" fill="#5cf0ac" stroke="#0a3a22" stroke-width="0.4"/>
<rect x="111.2" y="266.5" width="10.7" height="13.9" fill="#f8d826"/>
<text x="116.55" y="276.84999999999997" font-size="9.5" fill="#333" text-anchor="middle">C</text>
<rect x="176.9" y="248.8" width="11.8" height="14.7" fill="#5ea040"/>
<text x="182.8" y="259.55" font-size="9.5" fill="#222" text-anchor="middle">D</text>
<rect x="205.4" y="274.3" width="11.5" height="14.4" fill="#c83418"/>
<text x="211.15" y="284.9" font-size="9.5" fill="#222" text-anchor="middle">B</text>
<rect x="193.7" y="319.5" width="11.2" height="14.4" fill="#b81c1c"/>
<text x="199.29999999999998" y="330.09999999999997" font-size="9.5" fill="#222" text-anchor="middle">A</text>
<rect x="53.5" y="289.3" width="11.2" height="14.2" fill="#2a2a7c"/>
<text x="59.1" y="299.8" font-size="9.5" fill="#fff" text-anchor="middle">H</text>
<rect x="171.2" y="365" width="11.6" height="14.2" fill="#3c3892"/>
<text x="177.0" y="375.5" font-size="9.5" fill="#ddd" text-anchor="middle">G</text>
<rect x="104.1" y="356.2" width="11.9" height="14.7" fill="#2e9a70"/>
<text x="110.05" y="366.95" font-size="9.5" fill="#222" text-anchor="middle">E</text>
<rect x="46.9" y="394.6" width="11.1" height="14.3" fill="#3a9c9c"/>
<text x="52.449999999999996" y="405.15" font-size="9.5" fill="#222" text-anchor="middle">F</text>
<rect x="284" y="273.3" width="173" height="129.3" fill="#d8d8d8"/>
<line x1="283.3" y1="273.0" x2="283.3" y2="404.2" stroke="#333" stroke-width="1.3"/>
<line x1="282.7" y1="403.5" x2="457.3" y2="403.5" stroke="#333" stroke-width="1.3"/>
<line x1="280" y1="397.6" x2="283.3" y2="397.6" stroke="#333" stroke-width="0.9"/>
<text x="277.2" y="400.5" font-size="8.0" fill="#1e1e1e" text-anchor="end" textLength="4.6" lengthAdjust="spacingAndGlyphs">0</text>
<line x1="280" y1="367.70000000000005" x2="283.3" y2="367.70000000000005" stroke="#333" stroke-width="0.9"/>
<line x1="280" y1="337.8" x2="283.3" y2="337.8" stroke="#333" stroke-width="0.9"/>
<text x="277.2" y="340.7" font-size="8.0" fill="#1e1e1e" text-anchor="end" textLength="10.9" lengthAdjust="spacingAndGlyphs">0.5</text>
<line x1="280" y1="307.90000000000003" x2="283.3" y2="307.90000000000003" stroke="#333" stroke-width="0.9"/>
<line x1="280" y1="278.0" x2="283.3" y2="278.0" stroke="#333" stroke-width="0.9"/>
<text x="277.2" y="280.9" font-size="8.0" fill="#1e1e1e" text-anchor="end" textLength="11" lengthAdjust="spacingAndGlyphs">1.0</text>
<line x1="290.9" y1="403.5" x2="290.9" y2="406.5" stroke="#333" stroke-width="0.9"/>
<text x="290.9" y="417.0" font-size="8.0" fill="#1e1e1e" text-anchor="middle" textLength="4.6" lengthAdjust="spacingAndGlyphs">0</text>
<line x1="322.9" y1="403.5" x2="322.9" y2="406.5" stroke="#333" stroke-width="0.9"/>
<line x1="354.9" y1="403.5" x2="354.9" y2="406.5" stroke="#333" stroke-width="0.9"/>
<text x="354.9" y="417.0" font-size="8.0" fill="#1e1e1e" text-anchor="middle" textLength="9.6" lengthAdjust="spacingAndGlyphs">50</text>
<line x1="386.9" y1="403.5" x2="386.9" y2="406.5" stroke="#333" stroke-width="0.9"/>
<line x1="418.9" y1="403.5" x2="418.9" y2="406.5" stroke="#333" stroke-width="0.9"/>
<text x="418.9" y="417.0" font-size="8.0" fill="#1e1e1e" text-anchor="middle" textLength="14.5" lengthAdjust="spacingAndGlyphs">100</text>
<line x1="450.9" y1="403.5" x2="450.9" y2="406.5" stroke="#333" stroke-width="0.9"/>
<text x="370.6" y="430.3" font-size="10.3" fill="#1e1e1e" text-anchor="middle" textLength="25.8" lengthAdjust="spacingAndGlyphs">Months</text>
<text x="260.3" y="337.8" font-size="10" fill="#1e1e1e" text-anchor="middle" textLength="26" lengthAdjust="spacingAndGlyphs" transform="rotate(-90 260.3 337.8)">Survival</text>
<text x="290.3" y="382.0" font-size="8.2" fill="#1e1e1e" text-anchor="start" font-style="italic">P</text>
<text x="297.2" y="382.0" font-size="8.2" fill="#1e1e1e" text-anchor="start" textLength="25.3" lengthAdjust="spacingAndGlyphs">= .0011</text>
<path d="M290.8 277.2 L292.0 277.2 L292.0 279.1 L293.2 279.1 L293.2 281.0 L294.4 281.0 L294.4 282.9 L295.6 282.9 L295.6 284.8 L296.8 284.8 L296.8 286.7 L298.0 286.7 L298.0 288.7 L299.1 288.7 L299.1 290.8 L300.3 290.8 L300.3 292.8 L301.0 292.8 L301.0 294.7 L301.7 294.7 L301.7 296.6 L302.4 296.6 L302.4 298.5 L303.1 298.5 L303.1 300.4 L303.8 300.4 L303.8 302.3 L304.5 302.3 L304.5 304.6 L305.3 304.6 L305.3 306.9 L306.0 306.9 L306.0 309.2 L307.8 309.2 L307.8 310.9 L309.5 310.9 L309.5 312.7 L310.3 312.7 L310.3 314.7 L311.0 314.7 L311.0 316.7 L311.8 316.7 L311.8 318.7 L312.5 318.7 L312.5 320.7 L313.3 320.7 L313.3 322.7 L335.0 322.7 L335.0 338.3 L407.0 338.3" stroke="#a00000" stroke-width="1.5" fill="none" stroke-linejoin="miter"/>
<path d="M290.8 277.2 L291.4 277.2 L291.4 279.1 L291.9 279.1 L291.9 281.1 L292.4 281.1 L292.4 283.1 L293.0 283.1 L293.0 285.0 L293.5 285.0 L293.5 286.8 L294.0 286.8 L294.0 288.7 L294.5 288.7 L294.5 290.5 L295.0 290.5 L295.0 292.3 L295.5 292.3 L295.5 294.2 L296.0 294.2 L296.0 296.0 L296.6 296.0 L296.6 298.1 L297.1 298.1 L297.1 300.3 L297.7 300.3 L297.7 302.5 L298.3 302.5 L298.3 304.6 L298.9 304.6 L298.9 306.5 L299.5 306.5 L299.5 308.5 L300.0 308.5 L300.0 310.4 L300.6 310.4 L300.6 312.3 L303.7 312.3 L303.7 313.0 L303.9 313.0 L303.9 314.8 L304.1 314.8 L304.1 316.5 L304.3 316.5 L304.3 318.2 L304.5 318.2 L304.5 320.0 L306.0 320.0 L306.0 320.8 L306.2 320.8 L306.2 322.7 L306.4 322.7 L306.4 324.6 L306.6 324.6 L306.6 326.6 L306.8 326.6 L306.8 328.5 L333.2 328.5 L333.2 362.4 L349.6 362.4 L349.6 380.8 L366.0 380.8" stroke="#ff0000" stroke-width="1.5" fill="none" stroke-linejoin="miter"/>
<path d="M290.8 277.2 L291.2 277.2 L291.2 279.3 L291.7 279.3 L291.7 281.5 L292.1 281.5 L292.1 283.6 L292.6 283.6 L292.6 285.7 L293.1 285.7 L293.1 287.9 L293.5 287.9 L293.5 290.0 L293.9 290.0 L293.9 292.0 L294.3 292.0 L294.3 294.0 L294.8 294.0 L294.8 296.0 L295.2 296.0 L295.2 298.0 L295.6 298.0 L295.6 300.0 L295.8 300.0 L295.8 302.3 L296.0 302.3 L296.0 304.6 L296.6 304.6 L296.6 306.8 L297.2 306.8 L297.2 308.9 L297.9 308.9 L297.9 311.1 L298.5 311.1 L298.5 313.2 L299.1 313.2 L299.1 315.4 L299.9 315.4 L299.9 317.3 L300.6 317.3 L300.6 319.2 L301.4 319.2 L301.4 321.2 L302.2 321.2 L302.2 323.1 L302.8 323.1 L302.8 325.0 L303.4 325.0 L303.4 327.0 L303.9 327.0 L303.9 328.9 L304.5 328.9 L304.5 330.8 L305.3 330.8 L305.3 333.1 L306.0 333.1 L306.0 335.4 L306.8 335.4 L306.8 337.7 L309.5 337.7 L309.5 339.2 L310.6 339.2 L310.6 341.3 L311.6 341.3 L311.6 343.4 L312.9 343.4 L312.9 345.5 L314.2 345.5 L314.2 347.7 L315.0 347.7 L315.0 349.7 L315.9 349.7 L315.9 351.7 L316.7 351.7 L316.7 353.7 L319.3 353.7 L319.3 356.3 L323.7 356.3 L323.7 357.2 L324.3 357.2 L324.3 358.9 L324.8 358.9 L324.8 360.7 L325.4 360.7 L325.4 362.4 L327.1 362.4 L327.1 364.1 L328.9 364.1 L328.9 365.9 L335.0 365.9 L335.0 367.6 L338.4 367.6 L338.4 369.3 L341.8 369.3 L341.8 371.9 L342.2 371.9 L342.2 374.0 L342.7 374.0 L342.7 376.2 L349.6 376.2 L349.6 377.1 L350.9 377.1 L350.9 379.0 L352.2 379.0 L352.2 380.8 L408.6 380.8" stroke="#ffff00" stroke-width="1.8" fill="none" stroke-linejoin="miter"/>
<path d="M290.8 277.2 L296.0 277.2 L296.0 278.5 L297.8 278.5 L297.8 280.6 L299.5 280.6 L299.5 282.8 L301.2 282.8 L301.2 284.9 L303.0 284.9 L303.0 287.0 L303.4 287.0 L303.4 289.2 L303.7 289.2 L303.7 291.3 L304.1 291.3 L304.1 293.5 L304.5 293.5 L304.5 295.7 L304.8 295.7 L304.8 297.8 L305.2 297.8 L305.2 300.0 L306.0 300.0 L306.0 301.5 L307.1 301.5 L307.1 303.6 L308.3 303.6 L308.3 305.8 L328.9 305.8 L328.9 315.8 L341.0 315.8 L341.0 348.6 L367.8 348.6 L367.8 373.0 L369.5 373.0 L369.5 397.5" stroke="#a0f040" stroke-width="1.5" fill="none" stroke-linejoin="miter"/>
<path d="M290.8 277.2 L291.8 277.2 L291.8 279.1 L292.7 279.1 L292.7 281.1 L293.7 281.1 L293.7 283.0 L294.4 283.0 L294.4 285.1 L295.0 285.1 L295.0 287.2 L295.7 287.2 L295.7 289.4 L296.4 289.4 L296.4 291.5 L297.0 291.5 L297.0 293.6 L297.7 293.6 L297.7 295.8 L298.3 295.8 L298.3 297.9 L299.0 297.9 L299.0 300.0 L299.8 300.0 L299.8 301.9 L300.6 301.9 L300.6 303.9 L301.4 303.9 L301.4 305.8 L302.2 305.8 L302.2 307.7 L303.5 307.7 L303.5 309.6 L304.9 309.6 L304.9 311.5 L306.2 311.5 L306.2 313.5 L307.5 313.5 L307.5 315.4 L308.9 315.4 L308.9 317.3 L310.2 317.3 L310.2 319.2 L311.6 319.2 L311.6 321.1 L313.0 321.1 L313.0 323.0 L314.8 323.0 L314.8 325.1 L316.5 325.1 L316.5 327.1 L318.3 327.1 L318.3 329.2 L320.4 329.2 L320.4 331.1 L322.4 331.1 L322.4 333.1 L324.5 333.1 L324.5 335.0 L327.1 335.0 L327.1 337.1 L329.8 337.1 L329.8 339.2 L330.9 339.2 L330.9 341.1 L332.1 341.1 L332.1 343.1 L333.2 343.1 L333.2 345.0 L337.5 345.0 L337.5 346.8 L341.8 346.8 L341.8 348.6 L344.0 348.6 L344.0 350.3 L346.2 350.3 L346.2 352.0 L349.6 352.0 L349.6 354.1 L353.1 354.1 L353.1 356.3 L373.0 356.3 L373.0 357.1 L395.1 357.1 L395.1 362.0 L400.6 362.0 L400.6 367.0 L430.8 367.0 L430.8 377.6 L450.9 377.6" stroke="#40f0a0" stroke-width="1.5" fill="none" stroke-linejoin="miter"/>
<path d="M290.8 277.2 L293.5 277.2 L293.5 279.0 L296.0 279.0 L296.0 281.0 L297.5 281.0 L297.5 283.5 L299.0 283.5 L299.0 286.0 L300.0 286.0 L300.0 288.0 L301.0 288.0 L301.0 290.0 L301.5 290.0 L301.5 292.0 L301.9 292.0 L301.9 294.0 L302.4 294.0 L302.4 296.0 L302.8 296.0 L302.8 298.0 L303.3 298.0 L303.3 300.0 L304.2 300.0 L304.2 302.3 L305.2 302.3 L305.2 304.6 L306.4 304.6 L306.4 306.9 L307.5 306.9 L307.5 309.2 L308.1 309.2 L308.1 311.1 L308.6 311.1 L308.6 313.0 L309.2 313.0 L309.2 315.0 L309.8 315.0 L309.8 316.9 L313.7 316.9 L313.7 318.5 L314.4 318.5 L314.4 320.8 L315.2 320.8 L315.2 323.1 L317.5 323.1 L317.5 323.8 L321.4 323.8 L321.4 326.2 L321.6 326.2 L321.6 327.7 L321.8 327.7 L321.8 329.2 L321.9 329.2 L321.9 331.2 L322.1 331.2 L322.1 333.2 L322.2 333.2 L322.2 335.2 L322.4 335.2 L322.4 337.2 L322.5 337.2 L322.5 339.2 L322.6 339.2 L322.6 341.0 L322.8 341.0 L322.8 342.9 L397.9 342.9 L397.9 397.7" stroke="#00ffff" stroke-width="1.5" fill="none" stroke-linejoin="miter"/>
<path d="M290.8 277.2 L291.8 277.2 L291.8 280.0 L292.8 280.0 L292.8 281.5 L293.7 281.5 L293.7 283.0 L295.6 283.0 L295.6 284.5 L297.5 284.5 L297.5 286.0 L299.4 286.0 L299.4 287.6 L301.4 287.6 L301.4 289.2 L302.9 289.2 L302.9 291.1 L304.5 291.1 L304.5 293.0 L306.4 293.0 L306.4 295.3 L308.3 295.3 L308.3 297.6 L310.2 297.6 L310.2 299.1 L312.2 299.1 L312.2 300.7 L313.2 300.7 L313.2 302.5 L314.2 302.5 L314.2 304.2 L315.2 304.2 L315.2 306.0 L316.0 306.0 L316.0 308.5 L316.8 308.5 L316.8 311.0 L318.3 311.0 L318.3 313.8 L319.9 313.8 L319.9 315.8 L321.4 315.8 L321.4 317.7 L325.2 317.7 L325.2 319.2 L326.0 319.2 L326.0 321.1 L326.8 321.1 L326.8 323.1 L329.0 323.1 L329.0 323.8 L334.5 323.8 L334.5 324.6 L338.4 324.6 L338.4 325.2 L338.6 325.2 L338.6 327.1 L338.8 327.1 L338.8 329.1 L339.0 329.1 L339.0 331.1 L339.2 331.1 L339.2 333.0 L341.8 333.0 L341.8 333.8 L341.8 342.0 L379.2 342.0 L379.2 352.9 L409.8 352.9" stroke="#0000ff" stroke-width="1.5" fill="none" stroke-linejoin="miter"/>
<line x1="350" y1="336.4" x2="350" y2="340.0" stroke="#a00000" stroke-width="0.9"/>
<line x1="375" y1="336.4" x2="375" y2="340.0" stroke="#a00000" stroke-width="0.9"/>
<line x1="395" y1="336.4" x2="395" y2="340.0" stroke="#a00000" stroke-width="0.9"/>
<line x1="370" y1="340.2" x2="370" y2="343.8" stroke="#0000ff" stroke-width="0.9"/>
<line x1="390" y1="351.09999999999997" x2="390" y2="354.7" stroke="#0000ff" stroke-width="0.9"/>
<line x1="405" y1="351.09999999999997" x2="405" y2="354.7" stroke="#0000ff" stroke-width="0.9"/>
<line x1="360" y1="378.8" x2="360" y2="382.40000000000003" stroke="#ffff00" stroke-width="0.9"/>
<line x1="380" y1="378.8" x2="380" y2="382.40000000000003" stroke="#ffff00" stroke-width="0.9"/>
<line x1="400" y1="378.8" x2="400" y2="382.40000000000003" stroke="#ffff00" stroke-width="0.9"/>
<line x1="351" y1="378.8" x2="351" y2="382.40000000000003" stroke="#ff0000" stroke-width="0.9"/>
<line x1="365" y1="378.8" x2="365" y2="382.40000000000003" stroke="#ff0000" stroke-width="0.9"/>
<line x1="420" y1="365.2" x2="420" y2="368.8" stroke="#40f0a0" stroke-width="0.9"/>
<line x1="440" y1="375.8" x2="440" y2="379.40000000000003" stroke="#40f0a0" stroke-width="0.9"/>
<line x1="370" y1="341.09999999999997" x2="370" y2="344.7" stroke="#00ffff" stroke-width="0.9"/>
<line x1="390" y1="341.09999999999997" x2="390" y2="344.7" stroke="#00ffff" stroke-width="0.9"/>
<rect x="416.1" y="277.4" width="33.9" height="70.9" fill="#fff"/>
<rect x="419.1" y="279.5" width="4.8" height="9.5" fill="#a00000"/>
<text x="427" y="287.1" font-size="8.1" fill="#1e1e1e" text-anchor="start" textLength="20.5" lengthAdjust="spacingAndGlyphs">LR-SA</text>
<rect x="419.1" y="288.97" width="4.8" height="9.5" fill="#ff0000"/>
<text x="427" y="296.57000000000005" font-size="8.1" fill="#1e1e1e" text-anchor="start" textLength="20.5" lengthAdjust="spacingAndGlyphs">LR-SB</text>
<rect x="419.1" y="298.44" width="4.8" height="9.5" fill="#ffff00"/>
<text x="427" y="306.04" font-size="8.1" fill="#1e1e1e" text-anchor="start" textLength="20.5" lengthAdjust="spacingAndGlyphs">LR-SC</text>
<rect x="419.1" y="307.91" width="4.8" height="9.5" fill="#a0f040"/>
<text x="427" y="315.51000000000005" font-size="8.1" fill="#1e1e1e" text-anchor="start" textLength="20.5" lengthAdjust="spacingAndGlyphs">LR-SD</text>
<rect x="419.1" y="317.38" width="4.8" height="9.5" fill="#40f0a0"/>
<text x="427" y="324.98" font-size="8.1" fill="#1e1e1e" text-anchor="start" textLength="20.5" lengthAdjust="spacingAndGlyphs">LR-SE</text>
<rect x="419.1" y="326.85" width="4.8" height="9.5" fill="#00ffff"/>
<text x="427" y="334.45000000000005" font-size="8.1" fill="#1e1e1e" text-anchor="start" textLength="20.5" lengthAdjust="spacingAndGlyphs">LR-SF</text>
<rect x="419.1" y="336.32" width="4.8" height="9.5" fill="#0000ff"/>
<text x="427" y="343.92" font-size="8.1" fill="#1e1e1e" text-anchor="start" textLength="20.5" lengthAdjust="spacingAndGlyphs">LR-SG</text>
<path d="M54.4 590.4 L114.6 590.4 L208.2 530.5 L148.0 530.5 Z" fill="#c4c4cc"/>
<path d="M54.4 570.05 L148.0 510.15 L208.2 510.15" stroke="#7a7a7a" stroke-width="0.9" fill="none"/>
<path d="M54.4 549.6999999999999 L148.0 489.8 L208.2 489.8" stroke="#7a7a7a" stroke-width="0.9" fill="none"/>
<path d="M54.4 529.35 L148.0 469.45 L208.2 469.45" stroke="#7a7a7a" stroke-width="0.9" fill="none"/>
<path d="M54.4 509.0 L148.0 449.1 L208.2 449.1" stroke="#111" stroke-width="1.1" fill="none"/>
<path d="M148.0 449.1 L148.0 530.5 L208.2 530.5 M208.2 449.1 L208.2 530.5" stroke="#111" stroke-width="0.9" fill="none"/>
<path d="M54.4 590.4 L148.0 530.5" stroke="#111" stroke-width="0.9" fill="none"/>
<path d="M196.05 470.79 L199.75 467.89 L199.75 533.19 L196.05 536.09 Z" fill="#061a5c"/>
<path d="M190.05 470.79 L193.75 467.89 L199.75 467.89 L196.05 470.79 Z" fill="#2040a8"/>
<rect x="190.05" y="470.79" width="6.0" height="65.30" fill="#0a2c90"/>
<path d="M184.35 515.18 L188.05 512.28 L188.05 540.68 L184.35 543.58 Z" fill="#0614a8"/>
<path d="M178.35 515.18 L182.05 512.28 L188.05 512.28 L184.35 515.18 Z" fill="#3050ff"/>
<rect x="178.35" y="515.18" width="6.0" height="28.40" fill="#0a28ff"/>
<path d="M157.60 524.46 L161.30 521.56 L161.30 548.16 L157.60 551.06 Z" fill="#129c9c"/>
<path d="M151.60 524.46 L155.30 521.56 L161.30 521.56 L157.60 524.46 Z" fill="#60f0f0"/>
<rect x="151.60" y="524.46" width="6.0" height="26.60" fill="#20d8d8"/>
<path d="M130.85 529.75 L134.55 526.85 L134.55 555.65 L130.85 558.55 Z" fill="#0e8a64"/>
<path d="M124.85 529.75 L128.55 526.85 L134.55 526.85 L130.85 529.75 Z" fill="#40e0b0"/>
<rect x="124.85" y="529.75" width="6.0" height="28.80" fill="#18c890"/>
<path d="M115.80 529.75 L119.50 526.85 L119.50 555.65 L115.80 558.55 Z" fill="#0e8a64"/>
<path d="M109.80 529.75 L113.50 526.85 L119.50 526.85 L115.80 529.75 Z" fill="#40e0b0"/>
<rect x="109.80" y="529.75" width="6.0" height="28.80" fill="#18c890"/>
<path d="M134.20 518.04 L137.90 515.14 L137.90 563.14 L134.20 566.04 Z" fill="#80c068"/>
<path d="M128.20 518.04 L131.90 515.14 L137.90 515.14 L134.20 518.04 Z" fill="#c8ffb0"/>
<rect x="128.20" y="518.04" width="6.0" height="48.00" fill="#b0f090"/>
<path d="M107.45 533.12 L111.15 530.23 L111.15 570.62 L107.45 573.52 Z" fill="#c8b800"/>
<path d="M101.45 533.12 L105.15 530.23 L111.15 530.23 L107.45 533.12 Z" fill="#fff460"/>
<rect x="101.45" y="533.12" width="6.0" height="40.40" fill="#ffee00"/>
<path d="M92.40 542.32 L96.10 539.42 L96.10 570.62 L92.40 573.52 Z" fill="#c8b800"/>
<path d="M86.40 542.32 L90.10 539.42 L96.10 539.42 L92.40 542.32 Z" fill="#fff460"/>
<rect x="86.40" y="542.32" width="6.0" height="31.20" fill="#ffee00"/>
<path d="M95.75 520.81 L99.45 517.91 L99.45 578.11 L95.75 581.01 Z" fill="#b80812"/>
<path d="M89.75 520.81 L93.45 517.91 L99.45 517.91 L95.75 520.81 Z" fill="#ff4050"/>
<rect x="89.75" y="520.81" width="6.0" height="60.20" fill="#ff1020"/>
<path d="M84.05 563.00 L87.75 560.10 L87.75 585.60 L84.05 588.50 Z" fill="#980810"/>
<path d="M78.05 563.00 L81.75 560.10 L87.75 560.10 L84.05 563.00 Z" fill="#e83040"/>
<rect x="78.05" y="563.00" width="6.0" height="25.50" fill="#d0101c"/>
<path d="M69.00 552.30 L72.70 549.40 L72.70 585.60 L69.00 588.50 Z" fill="#980810"/>
<path d="M63.00 552.30 L66.70 549.40 L72.70 549.40 L69.00 552.30 Z" fill="#e83040"/>
<rect x="63.00" y="552.30" width="6.0" height="36.20" fill="#d0101c"/>
<path d="M54.4 509.0 L54.4 590.4 L114.6 590.4 L208.2 530.5" stroke="#111" stroke-width="1.1" fill="none"/>
<line x1="52.4" y1="590.4" x2="54.4" y2="590.4" stroke="#111" stroke-width="0.9"/>
<text x="49.3" y="593.3" font-size="8.4" fill="#1e1e1e" text-anchor="end" textLength="11.9" lengthAdjust="spacingAndGlyphs">0%</text>
<line x1="52.4" y1="570.05" x2="54.4" y2="570.05" stroke="#111" stroke-width="0.9"/>
<text x="49.3" y="572.9499999999999" font-size="8.4" fill="#1e1e1e" text-anchor="end" textLength="16.3" lengthAdjust="spacingAndGlyphs">25%</text>
<line x1="52.4" y1="549.6999999999999" x2="54.4" y2="549.6999999999999" stroke="#111" stroke-width="0.9"/>
<text x="49.3" y="552.5999999999999" font-size="8.4" fill="#1e1e1e" text-anchor="end" textLength="16.3" lengthAdjust="spacingAndGlyphs">50%</text>
<line x1="52.4" y1="529.35" x2="54.4" y2="529.35" stroke="#111" stroke-width="0.9"/>
<text x="49.3" y="532.25" font-size="8.4" fill="#1e1e1e" text-anchor="end" textLength="16.3" lengthAdjust="spacingAndGlyphs">75%</text>
<line x1="52.4" y1="509.0" x2="54.4" y2="509.0" stroke="#111" stroke-width="0.9"/>
<text x="49.3" y="511.9" font-size="8.4" fill="#1e1e1e" text-anchor="end" textLength="20.1" lengthAdjust="spacingAndGlyphs">100%</text>
<line x1="61.9" y1="590.4" x2="61.9" y2="592.6" stroke="#111" stroke-width="0.8"/>
<line x1="76.95" y1="590.4" x2="76.95" y2="592.6" stroke="#111" stroke-width="0.8"/>
<line x1="92.0" y1="590.4" x2="92.0" y2="592.6" stroke="#111" stroke-width="0.8"/>
<line x1="107.05000000000001" y1="590.4" x2="107.05000000000001" y2="592.6" stroke="#111" stroke-width="0.8"/>
<text x="62.7" y="603.8" font-size="8.4" fill="#1e1e1e" text-anchor="middle" textLength="9.4" lengthAdjust="spacingAndGlyphs">P2</text>
<text x="77.55" y="603.8" font-size="8.4" fill="#1e1e1e" text-anchor="middle" textLength="9.4" lengthAdjust="spacingAndGlyphs">P3</text>
<text x="92.4" y="603.8" font-size="8.4" fill="#1e1e1e" text-anchor="middle" textLength="9.4" lengthAdjust="spacingAndGlyphs">P4</text>
<text x="107.25" y="603.8" font-size="8.4" fill="#1e1e1e" text-anchor="middle" textLength="9.4" lengthAdjust="spacingAndGlyphs">P5</text>
<line x1="126.3" y1="582.9125" x2="126.3" y2="585.3125" stroke="#111" stroke-width="0.8"/>
<line x1="149.7" y1="567.9375" x2="149.7" y2="570.3375" stroke="#111" stroke-width="0.8"/>
<line x1="173.1" y1="552.9625" x2="173.1" y2="555.3625" stroke="#111" stroke-width="0.8"/>
<line x1="196.5" y1="537.9875" x2="196.5" y2="540.3874999999999" stroke="#111" stroke-width="0.8"/>
<text x="118.2" y="603.8" font-size="8.4" fill="#1e1e1e" text-anchor="middle" textLength="10.2" lengthAdjust="spacingAndGlyphs">SA</text>
<text x="131.6" y="596.4" font-size="8.4" fill="#1e1e1e" text-anchor="middle" textLength="10.2" lengthAdjust="spacingAndGlyphs">SB</text>
<text x="143.2" y="588.8" font-size="8.4" fill="#1e1e1e" text-anchor="middle" textLength="10.2" lengthAdjust="spacingAndGlyphs">SC</text>
<text x="155.3" y="581.4" font-size="8.4" fill="#1e1e1e" text-anchor="middle" textLength="10.2" lengthAdjust="spacingAndGlyphs">SD</text>
<text x="167.1" y="573.8" font-size="8.4" fill="#1e1e1e" text-anchor="middle" textLength="10.2" lengthAdjust="spacingAndGlyphs">SE</text>
<text x="179.4" y="566.4" font-size="8.4" fill="#1e1e1e" text-anchor="middle" textLength="10.2" lengthAdjust="spacingAndGlyphs">SF</text>
<text x="191" y="559" font-size="8.4" fill="#1e1e1e" text-anchor="middle" textLength="10.2" lengthAdjust="spacingAndGlyphs">SG</text>
<text x="202.8" y="551.3" font-size="8.4" fill="#1e1e1e" text-anchor="middle" textLength="10.2" lengthAdjust="spacingAndGlyphs">SH</text>
<text x="184.3" y="582.8" font-size="10" fill="#1e1e1e" text-anchor="middle" textLength="64.5" lengthAdjust="spacingAndGlyphs" transform="rotate(-35 184.3 582.8)">Genetic signatures</text>
<text x="92.4" y="617.2" font-size="10.6" fill="#1e1e1e" text-anchor="middle" textLength="67.7" lengthAdjust="spacingAndGlyphs">Morphologic profile</text>
<text x="22.6" y="550.0" font-size="8.9" fill="#1e1e1e" text-anchor="middle" textLength="35.6" lengthAdjust="spacingAndGlyphs" transform="rotate(-90 22.6 550.0)">Proportion</text>
<rect x="44.8" y="436.1" width="5" height="5" fill="#c00010"/>
<text x="52.9" y="440.9" font-size="8.0" fill="#1e1e1e" text-anchor="start" textLength="9.0" lengthAdjust="spacingAndGlyphs">SA</text>
<rect x="68.4" y="436.1" width="5" height="5" fill="#ff0010"/>
<text x="76.5" y="440.9" font-size="8.0" fill="#1e1e1e" text-anchor="start" textLength="9.0" lengthAdjust="spacingAndGlyphs">SB</text>
<rect x="92.0" y="436.1" width="5" height="5" fill="#ffee00"/>
<text x="100.1" y="440.9" font-size="8.0" fill="#1e1e1e" text-anchor="start" textLength="9.0" lengthAdjust="spacingAndGlyphs">SC</text>
<rect x="115.60000000000001" y="436.1" width="5" height="5" fill="#b8f090"/>
<text x="123.7" y="440.9" font-size="8.0" fill="#1e1e1e" text-anchor="start" textLength="9.0" lengthAdjust="spacingAndGlyphs">SD</text>
<rect x="139.2" y="436.1" width="5" height="5" fill="#18c890"/>
<text x="147.29999999999998" y="440.9" font-size="8.0" fill="#1e1e1e" text-anchor="start" textLength="9.0" lengthAdjust="spacingAndGlyphs">SE</text>
<rect x="162.8" y="436.1" width="5" height="5" fill="#20d0d0"/>
<text x="170.9" y="440.9" font-size="8.0" fill="#1e1e1e" text-anchor="start" textLength="9.0" lengthAdjust="spacingAndGlyphs">SF</text>
<rect x="186.40000000000003" y="436.1" width="5" height="5" fill="#0010ff"/>
<text x="194.50000000000003" y="440.9" font-size="8.0" fill="#1e1e1e" text-anchor="start" textLength="9.0" lengthAdjust="spacingAndGlyphs">SG</text>
<rect x="210.0" y="436.1" width="5" height="5" fill="#0a2c90"/>
<text x="218.1" y="440.9" font-size="8.0" fill="#1e1e1e" text-anchor="start" textLength="9.0" lengthAdjust="spacingAndGlyphs">SH</text>
<rect x="330.20" y="502.80" width="14.9" height="13.2" fill="#e4e4e4"/>
<rect x="346.92" y="502.80" width="14.9" height="13.2" fill="#e4e4e4"/>
<rect x="363.64" y="502.80" width="14.9" height="13.2" fill="#e4e4e4"/>
<rect x="380.36" y="502.80" width="14.9" height="13.2" fill="#e4e4e4"/>
<rect x="397.08" y="502.80" width="14.9" height="13.2" fill="#e4e4e4"/>
<rect x="413.80" y="502.80" width="14.9" height="13.2" fill="#e4e4e4"/>
<rect x="430.52" y="502.80" width="14.9" height="13.2" fill="#e4e4e4"/>
<rect x="447.24" y="502.80" width="14.9" height="13.2" fill="#e4e4e4"/>
<rect x="463.96" y="502.80" width="14.9" height="13.2" fill="#e4e4e4"/>
<rect x="480.68" y="502.80" width="14.9" height="13.2" fill="#e4e4e4"/>
<circle cx="488.13" cy="509.40" r="6.05" fill="#2d962d"/>
<rect x="497.40" y="502.80" width="14.9" height="13.2" fill="#e4e4e4"/>
<circle cx="504.85" cy="509.40" r="6.05" fill="#2d962d"/>
<text x="326.4" y="511.70000000000005" font-size="8.6" fill="#1a1a1a" text-anchor="end">E</text>
<rect x="330.20" y="517.83" width="14.9" height="13.2" fill="#bdbdbd"/>
<rect x="346.92" y="517.83" width="14.9" height="13.2" fill="#bdbdbd"/>
<rect x="363.64" y="517.83" width="14.9" height="13.2" fill="#bdbdbd"/>
<rect x="380.36" y="517.83" width="14.9" height="13.2" fill="#bdbdbd"/>
<rect x="397.08" y="517.83" width="14.9" height="13.2" fill="#bdbdbd"/>
<rect x="413.80" y="517.83" width="14.9" height="13.2" fill="#bdbdbd"/>
<rect x="430.52" y="517.83" width="14.9" height="13.2" fill="#bdbdbd"/>
<rect x="447.24" y="517.83" width="14.9" height="13.2" fill="#bdbdbd"/>
<circle cx="454.69" cy="524.43" r="6.05" fill="#2d962d"/>
<rect x="463.96" y="517.83" width="14.9" height="13.2" fill="#bdbdbd"/>
<circle cx="471.41" cy="524.43" r="6.05" fill="#2d962d"/>
<rect x="480.68" y="517.83" width="14.9" height="13.2" fill="#bdbdbd"/>
<rect x="497.40" y="517.83" width="14.9" height="13.2" fill="#bdbdbd"/>
<text x="326.4" y="526.73" font-size="8.6" fill="#1a1a1a" text-anchor="end">E+MgK</text>
<rect x="330.20" y="532.86" width="14.9" height="13.2" fill="#e4e4e4"/>
<circle cx="337.65" cy="539.46" r="6.05" fill="#2d962d"/>
<rect x="346.92" y="532.86" width="14.9" height="13.2" fill="#e4e4e4"/>
<circle cx="354.37" cy="539.46" r="6.05" fill="#2d962d"/>
<rect x="363.64" y="532.86" width="14.9" height="13.2" fill="#e4e4e4"/>
<circle cx="371.09" cy="539.46" r="6.05" fill="#2d962d"/>
<rect x="380.36" y="532.86" width="14.9" height="13.2" fill="#e4e4e4"/>
<circle cx="387.81" cy="539.46" r="6.05" fill="#2d962d"/>
<rect x="397.08" y="532.86" width="14.9" height="13.2" fill="#e4e4e4"/>
<circle cx="404.53" cy="539.46" r="6.05" fill="#2d962d"/>
<rect x="413.80" y="532.86" width="14.9" height="13.2" fill="#e4e4e4"/>
<circle cx="421.25" cy="539.46" r="6.05" fill="#2d962d"/>
<rect x="430.52" y="532.86" width="14.9" height="13.2" fill="#e4e4e4"/>
<circle cx="437.97" cy="539.46" r="6.05" fill="#2d962d"/>
<rect x="447.24" y="532.86" width="14.9" height="13.2" fill="#e4e4e4"/>
<rect x="463.96" y="532.86" width="14.9" height="13.2" fill="#e4e4e4"/>
<rect x="480.68" y="532.86" width="14.9" height="13.2" fill="#e4e4e4"/>
<rect x="497.40" y="532.86" width="14.9" height="13.2" fill="#e4e4e4"/>
<text x="326.4" y="541.76" font-size="8.6" fill="#1a1a1a" text-anchor="end">M+E+MgK</text>
<rect x="330.20" y="547.89" width="14.9" height="13.2" fill="#bdbdbd"/>
<rect x="346.92" y="547.89" width="14.9" height="13.2" fill="#bdbdbd"/>
<rect x="363.64" y="547.89" width="14.9" height="13.2" fill="#bdbdbd"/>
<rect x="380.36" y="547.89" width="14.9" height="13.2" fill="#bdbdbd"/>
<rect x="397.08" y="547.89" width="14.9" height="13.2" fill="#bdbdbd"/>
<rect x="413.80" y="547.89" width="14.9" height="13.2" fill="#bdbdbd"/>
<rect x="430.52" y="547.89" width="14.9" height="13.2" fill="#bdbdbd"/>
<rect x="447.24" y="547.89" width="14.9" height="13.2" fill="#bdbdbd"/>
<circle cx="454.69" cy="554.49" r="6.05" fill="#2d962d"/>
<rect x="463.96" y="547.89" width="14.9" height="13.2" fill="#bdbdbd"/>
<circle cx="471.41" cy="554.49" r="6.05" fill="#2d962d"/>
<rect x="480.68" y="547.89" width="14.9" height="13.2" fill="#bdbdbd"/>
<rect x="497.40" y="547.89" width="14.9" height="13.2" fill="#bdbdbd"/>
<text x="326.4" y="556.79" font-size="8.6" fill="#1a1a1a" text-anchor="end">A</text>
<rect x="330.20" y="562.92" width="14.9" height="13.2" fill="#e4e4e4"/>
<rect x="346.92" y="562.92" width="14.9" height="13.2" fill="#e4e4e4"/>
<rect x="363.64" y="562.92" width="14.9" height="13.2" fill="#e4e4e4"/>
<rect x="380.36" y="562.92" width="14.9" height="13.2" fill="#e4e4e4"/>
<circle cx="387.81" cy="569.52" r="6.05" fill="#2d962d"/>
<rect x="397.08" y="562.92" width="14.9" height="13.2" fill="#e4e4e4"/>
<circle cx="404.53" cy="569.52" r="6.05" fill="#2d962d"/>
<rect x="413.80" y="562.92" width="14.9" height="13.2" fill="#e4e4e4"/>
<circle cx="421.25" cy="569.52" r="6.05" fill="#2d962d"/>
<rect x="430.52" y="562.92" width="14.9" height="13.2" fill="#e4e4e4"/>
<circle cx="437.97" cy="569.52" r="6.05" fill="#2d962d"/>
<rect x="447.24" y="562.92" width="14.9" height="13.2" fill="#e4e4e4"/>
<rect x="463.96" y="562.92" width="14.9" height="13.2" fill="#e4e4e4"/>
<rect x="480.68" y="562.92" width="14.9" height="13.2" fill="#e4e4e4"/>
<rect x="497.40" y="562.92" width="14.9" height="13.2" fill="#e4e4e4"/>
<text x="326.4" y="571.8199999999999" font-size="8.6" fill="#1a1a1a" text-anchor="end">A+Th</text>
<rect x="330.20" y="577.95" width="14.9" height="13.2" fill="#bdbdbd"/>
<circle cx="337.65" cy="584.55" r="6.05" fill="#2d962d"/>
<rect x="346.92" y="577.95" width="14.9" height="13.2" fill="#bdbdbd"/>
<circle cx="354.37" cy="584.55" r="6.05" fill="#2d962d"/>
<rect x="363.64" y="577.95" width="14.9" height="13.2" fill="#bdbdbd"/>
<circle cx="371.09" cy="584.55" r="6.05" fill="#2d962d"/>
<rect x="380.36" y="577.95" width="14.9" height="13.2" fill="#bdbdbd"/>
<rect x="397.08" y="577.95" width="14.9" height="13.2" fill="#bdbdbd"/>
<rect x="413.80" y="577.95" width="14.9" height="13.2" fill="#bdbdbd"/>
<rect x="430.52" y="577.95" width="14.9" height="13.2" fill="#bdbdbd"/>
<rect x="447.24" y="577.95" width="14.9" height="13.2" fill="#bdbdbd"/>
<rect x="463.96" y="577.95" width="14.9" height="13.2" fill="#bdbdbd"/>
<rect x="480.68" y="577.95" width="14.9" height="13.2" fill="#bdbdbd"/>
<rect x="497.40" y="577.95" width="14.9" height="13.2" fill="#bdbdbd"/>
<text x="326.4" y="586.85" font-size="8.6" fill="#1a1a1a" text-anchor="end">N+A+Th</text>
<rect x="330.20" y="592.98" width="14.9" height="13.2" fill="#e4e4e4"/>
<rect x="346.92" y="592.98" width="14.9" height="13.2" fill="#e4e4e4"/>
<rect x="363.64" y="592.98" width="14.9" height="13.2" fill="#e4e4e4"/>
<rect x="380.36" y="592.98" width="14.9" height="13.2" fill="#e4e4e4"/>
<rect x="397.08" y="592.98" width="14.9" height="13.2" fill="#e4e4e4"/>
<rect x="413.80" y="592.98" width="14.9" height="13.2" fill="#e4e4e4"/>
<rect x="430.52" y="592.98" width="14.9" height="13.2" fill="#e4e4e4"/>
<rect x="447.24" y="592.98" width="14.9" height="13.2" fill="#e4e4e4"/>
<rect x="463.96" y="592.98" width="14.9" height="13.2" fill="#e4e4e4"/>
<rect x="480.68" y="592.98" width="14.9" height="13.2" fill="#e4e4e4"/>
<circle cx="488.13" cy="599.58" r="6.05" fill="#2d962d"/>
<rect x="497.40" y="592.98" width="14.9" height="13.2" fill="#e4e4e4"/>
<circle cx="504.85" cy="599.58" r="6.05" fill="#2d962d"/>
<text x="326.4" y="601.88" font-size="8.6" fill="#1a1a1a" text-anchor="end">No cytopenia</text>
<rect x="330.20" y="608.01" width="14.9" height="13.2" fill="#bdbdbd"/>
<rect x="346.92" y="608.01" width="14.9" height="13.2" fill="#bdbdbd"/>
<rect x="363.64" y="608.01" width="14.9" height="13.2" fill="#bdbdbd"/>
<rect x="380.36" y="608.01" width="14.9" height="13.2" fill="#bdbdbd"/>
<rect x="397.08" y="608.01" width="14.9" height="13.2" fill="#bdbdbd"/>
<rect x="413.80" y="608.01" width="14.9" height="13.2" fill="#bdbdbd"/>
<rect x="430.52" y="608.01" width="14.9" height="13.2" fill="#bdbdbd"/>
<rect x="447.24" y="608.01" width="14.9" height="13.2" fill="#bdbdbd"/>
<circle cx="454.69" cy="614.61" r="6.05" fill="#2d962d"/>
<rect x="463.96" y="608.01" width="14.9" height="13.2" fill="#bdbdbd"/>
<circle cx="471.41" cy="614.61" r="6.05" fill="#2d962d"/>
<rect x="480.68" y="608.01" width="14.9" height="13.2" fill="#bdbdbd"/>
<rect x="497.40" y="608.01" width="14.9" height="13.2" fill="#bdbdbd"/>
<text x="326.4" y="616.91" font-size="8.6" fill="#1a1a1a" text-anchor="end">Emg</text>
<rect x="330.20" y="623.04" width="14.9" height="13.2" fill="#e4e4e4"/>
<rect x="346.92" y="623.04" width="14.9" height="13.2" fill="#e4e4e4"/>
<rect x="363.64" y="623.04" width="14.9" height="13.2" fill="#e4e4e4"/>
<rect x="380.36" y="623.04" width="14.9" height="13.2" fill="#e4e4e4"/>
<circle cx="387.81" cy="629.64" r="6.05" fill="#2d962d"/>
<rect x="397.08" y="623.04" width="14.9" height="13.2" fill="#e4e4e4"/>
<circle cx="404.53" cy="629.64" r="6.05" fill="#2d962d"/>
<rect x="413.80" y="623.04" width="14.9" height="13.2" fill="#e4e4e4"/>
<circle cx="421.25" cy="629.64" r="6.05" fill="#2d962d"/>
<rect x="430.52" y="623.04" width="14.9" height="13.2" fill="#e4e4e4"/>
<circle cx="437.97" cy="629.64" r="6.05" fill="#2d962d"/>
<rect x="447.24" y="623.04" width="14.9" height="13.2" fill="#e4e4e4"/>
<rect x="463.96" y="623.04" width="14.9" height="13.2" fill="#e4e4e4"/>
<rect x="480.68" y="623.04" width="14.9" height="13.2" fill="#e4e4e4"/>
<rect x="497.40" y="623.04" width="14.9" height="13.2" fill="#e4e4e4"/>
<text x="326.4" y="631.9399999999999" font-size="8.6" fill="#1a1a1a" text-anchor="end">Mnc</text>
<rect x="330.20" y="638.07" width="14.9" height="13.2" fill="#bdbdbd"/>
<circle cx="337.65" cy="644.67" r="6.05" fill="#2d962d"/>
<rect x="346.92" y="638.07" width="14.9" height="13.2" fill="#bdbdbd"/>
<circle cx="354.37" cy="644.67" r="6.05" fill="#2d962d"/>
<rect x="363.64" y="638.07" width="14.9" height="13.2" fill="#bdbdbd"/>
<circle cx="371.09" cy="644.67" r="6.05" fill="#2d962d"/>
<rect x="380.36" y="638.07" width="14.9" height="13.2" fill="#bdbdbd"/>
<rect x="397.08" y="638.07" width="14.9" height="13.2" fill="#bdbdbd"/>
<rect x="413.80" y="638.07" width="14.9" height="13.2" fill="#bdbdbd"/>
<rect x="430.52" y="638.07" width="14.9" height="13.2" fill="#bdbdbd"/>
<rect x="447.24" y="638.07" width="14.9" height="13.2" fill="#bdbdbd"/>
<rect x="463.96" y="638.07" width="14.9" height="13.2" fill="#bdbdbd"/>
<rect x="480.68" y="638.07" width="14.9" height="13.2" fill="#bdbdbd"/>
<circle cx="488.13" cy="644.67" r="6.05" fill="#2d962d"/>
<rect x="497.40" y="638.07" width="14.9" height="13.2" fill="#bdbdbd"/>
<circle cx="504.85" cy="644.67" r="6.05" fill="#2d962d"/>
<text x="326.4" y="646.9699999999999" font-size="8.6" fill="#1a1a1a" text-anchor="end">No Mef</text>
<text x="340.65" y="499.0" font-size="8.4" fill="#1a1a1a" text-anchor="start" textLength="19.4" lengthAdjust="spacingAndGlyphs" transform="rotate(-90 340.65 499.0)">P2SA</text>
<text x="357.37" y="499.0" font-size="8.4" fill="#1a1a1a" text-anchor="start" textLength="19.4" lengthAdjust="spacingAndGlyphs" transform="rotate(-90 357.37 499.0)">P2SC</text>
<text x="374.09" y="499.0" font-size="8.4" fill="#1a1a1a" text-anchor="start" textLength="19.4" lengthAdjust="spacingAndGlyphs" transform="rotate(-90 374.09 499.0)">P2SE</text>
<text x="390.81" y="499.0" font-size="8.4" fill="#1a1a1a" text-anchor="start" textLength="19.4" lengthAdjust="spacingAndGlyphs" transform="rotate(-90 390.81 499.0)">P3SA</text>
<text x="407.53" y="499.0" font-size="8.4" fill="#1a1a1a" text-anchor="start" textLength="19.4" lengthAdjust="spacingAndGlyphs" transform="rotate(-90 407.53 499.0)">P3SB</text>
<text x="424.25" y="499.0" font-size="8.4" fill="#1a1a1a" text-anchor="start" textLength="19.4" lengthAdjust="spacingAndGlyphs" transform="rotate(-90 424.25 499.0)">P3SC</text>
<text x="440.97" y="499.0" font-size="8.4" fill="#1a1a1a" text-anchor="start" textLength="19.4" lengthAdjust="spacingAndGlyphs" transform="rotate(-90 440.97 499.0)">P3SE</text>
<text x="457.69" y="499.0" font-size="8.4" fill="#1a1a1a" text-anchor="start" textLength="19.4" lengthAdjust="spacingAndGlyphs" transform="rotate(-90 457.69 499.0)">P4SD</text>
<text x="474.41" y="499.0" font-size="8.4" fill="#1a1a1a" text-anchor="start" textLength="19.4" lengthAdjust="spacingAndGlyphs" transform="rotate(-90 474.41 499.0)">P4SF</text>
<text x="491.13" y="499.0" font-size="8.4" fill="#1a1a1a" text-anchor="start" textLength="19.4" lengthAdjust="spacingAndGlyphs" transform="rotate(-90 491.13 499.0)">P5SG</text>
<text x="507.85" y="499.0" font-size="8.4" fill="#1a1a1a" text-anchor="start" textLength="19.4" lengthAdjust="spacingAndGlyphs" transform="rotate(-90 507.85 499.0)">P5SH</text>
<line x1="329.3" y1="477.8" x2="329.3" y2="501.6" stroke="#444" stroke-width="1.0"/>
<line x1="379.6" y1="477.8" x2="379.6" y2="501.6" stroke="#444" stroke-width="1.0"/>
<line x1="446.3" y1="477.8" x2="446.3" y2="501.6" stroke="#444" stroke-width="1.0"/>
<line x1="479.6" y1="477.8" x2="479.6" y2="501.6" stroke="#444" stroke-width="1.0"/>
<line x1="513.3" y1="477.8" x2="513.3" y2="501.6" stroke="#444" stroke-width="1.0"/>
<line x1="293.7" y1="502.0" x2="329.8" y2="502.0" stroke="#333" stroke-width="1.0"/>
<line x1="282" y1="547.2" x2="328.6" y2="547.2" stroke="#333" stroke-width="1.0"/>
<line x1="282" y1="607.1" x2="328.6" y2="607.1" stroke="#333" stroke-width="1.0"/>
<line x1="282" y1="652.2" x2="328.6" y2="652.2" stroke="#333" stroke-width="1.0"/>
<text x="421" y="461.2" font-size="10.2" fill="#1a1a1a" text-anchor="middle" textLength="152.7" lengthAdjust="spacingAndGlyphs">Pairs of morphological profiles and</text>
<text x="420.8" y="473.0" font-size="10.2" fill="#1a1a1a" text-anchor="middle" textLength="75.6" lengthAdjust="spacingAndGlyphs">genetic signature</text>
<text x="272.0" y="524.8" font-size="8.8" fill="#1a1a1a" text-anchor="middle" textLength="34.5" lengthAdjust="spacingAndGlyphs" transform="rotate(-90 272.0 524.8)">Dysplasia</text>
<text x="272.0" y="577.6" font-size="8.8" fill="#1a1a1a" text-anchor="middle" textLength="38" lengthAdjust="spacingAndGlyphs" transform="rotate(-90 272.0 577.6)">Cytopenia</text>
<text x="272.0" y="630.8" font-size="8.8" fill="#1a1a1a" text-anchor="middle" textLength="47.4" lengthAdjust="spacingAndGlyphs" transform="rotate(-90 272.0 630.8)">MPN feature</text>
<text x="260.2" y="577.5" font-size="8.9" fill="#1a1a1a" text-anchor="middle" textLength="80" lengthAdjust="spacingAndGlyphs" transform="rotate(-90 260.2 577.5)">Morphological features</text>
<rect x="0" y="0" width="520" height="661" fill="none" stroke="#111" stroke-width="2.5"/>
</svg></body></html>
